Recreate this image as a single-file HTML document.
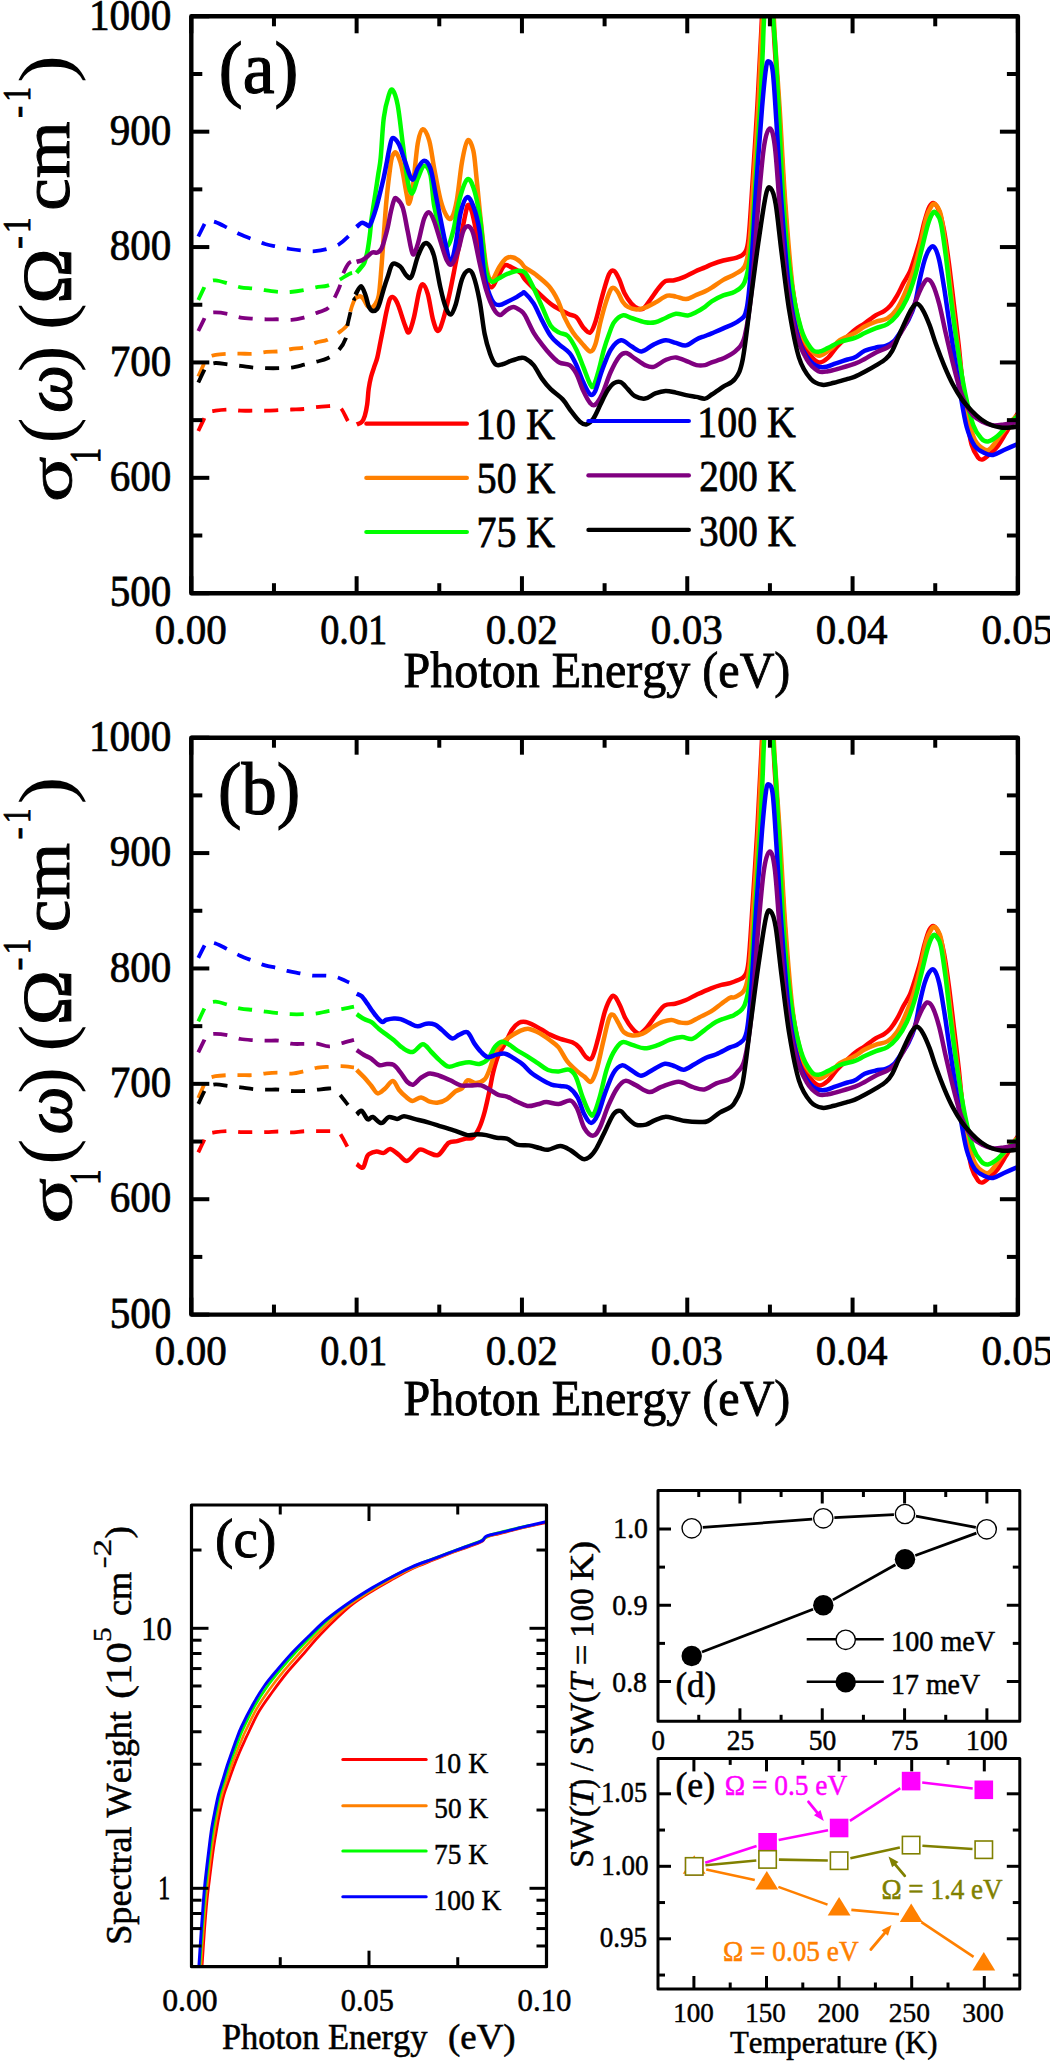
<!DOCTYPE html><html><head><meta charset="utf-8"><style>html,body{margin:0;padding:0;background:#fff;width:1050px;height:2061px;overflow:hidden;}svg{display:block;}text{font-family:"Liberation Serif",serif;font-kerning:none;}</style></head><body><svg width="1050" height="2061" viewBox="0 0 1050 2061" font-family="Liberation Serif" style="white-space:pre">
<rect width="1050" height="2061" fill="#fff"/>
<defs><clipPath id="clipa"><rect x="191.3" y="16.3" width="826.5999999999999" height="576.9000000000001"/></clipPath></defs>
<g clip-path="url(#clipa)" fill="none" stroke-linejoin="round">
<path d="M198.30,431.00 C199.25,428.98 202.63,421.90 204.00,418.90 C205.37,415.90 204.57,414.37 206.50,413.00 C208.43,411.63 211.85,411.27 215.60,410.70 C219.35,410.13 224.83,409.60 229.00,409.60 C233.17,409.60 236.43,410.52 240.60,410.70 C244.77,410.88 249.72,410.70 254.00,410.70 C258.28,410.70 262.08,410.80 266.30,410.70 C270.52,410.60 275.10,410.30 279.30,410.10 C283.50,409.90 287.42,409.68 291.50,409.50 C295.58,409.32 299.72,409.38 303.80,409.00 C307.88,408.62 311.83,407.68 316.00,407.20 C320.17,406.72 325.80,406.30 328.80,406.10 C331.80,405.90 331.97,405.62 334.00,406.00 C336.03,406.38 338.67,405.87 341.00,408.40 C343.33,410.93 346.17,418.27 348.00,421.20 C349.83,424.13 351.33,425.20 352.00,426.00" stroke="#ff0000" stroke-width="3.8" stroke-dasharray="14 12"/>
<path d="M198.30,376.50 C199.25,374.35 202.63,366.68 204.00,363.60 C205.37,360.52 204.57,359.47 206.50,358.00 C208.43,356.53 211.85,355.52 215.60,354.80 C219.35,354.08 224.83,353.88 229.00,353.70 C233.17,353.52 236.43,353.70 240.60,353.70 C244.77,353.70 249.72,354.00 254.00,353.70 C258.28,353.40 262.03,352.30 266.30,351.90 C270.57,351.50 275.40,351.78 279.60,351.30 C283.80,350.82 287.38,349.67 291.50,349.00 C295.62,348.33 300.22,348.37 304.30,347.30 C308.38,346.23 312.12,343.87 316.00,342.60 C319.88,341.33 323.82,341.35 327.60,339.70 C331.38,338.05 335.40,335.22 338.70,332.70 C342.00,330.18 345.47,328.08 347.40,324.60 C349.33,321.12 349.23,315.68 350.30,311.80 C351.37,307.92 352.73,303.83 353.80,301.30 C354.87,298.77 356.22,297.38 356.70,296.60" stroke="#ff8000" stroke-width="3.8" stroke-dasharray="14 12"/>
<path d="M198.30,300.00 C199.25,297.98 202.63,290.73 204.00,287.90 C205.37,285.07 204.57,284.27 206.50,283.00 C208.43,281.73 211.85,280.17 215.60,280.30 C219.35,280.43 224.83,282.63 229.00,283.80 C233.17,284.97 236.52,286.52 240.60,287.30 C244.68,288.08 249.42,288.02 253.50,288.50 C257.58,288.98 260.75,289.62 265.10,290.20 C269.45,290.78 275.38,291.70 279.60,292.00 C283.82,292.30 286.37,292.30 290.40,292.00 C294.43,291.70 299.53,290.98 303.80,290.20 C308.07,289.42 312.03,288.07 316.00,287.30 C319.97,286.53 323.82,286.77 327.60,285.60 C331.38,284.43 335.10,282.25 338.70,280.30 C342.30,278.35 346.20,275.25 349.20,273.90 C352.20,272.55 355.45,272.48 356.70,272.20" stroke="#00ff00" stroke-width="3.8" stroke-dasharray="14 12"/>
<path d="M198.30,236.50 C199.35,234.40 203.23,226.57 204.60,223.90 C205.97,221.23 204.67,220.80 206.50,220.50 C208.33,220.20 212.05,220.87 215.60,222.10 C219.15,223.33 223.72,225.87 227.80,227.90 C231.88,229.93 235.82,232.35 240.10,234.30 C244.38,236.25 249.33,237.98 253.50,239.60 C257.67,241.22 261.18,242.83 265.10,244.00 C269.02,245.17 272.85,245.77 277.00,246.60 C281.15,247.43 285.73,248.33 290.00,249.00 C294.27,249.67 298.43,250.23 302.60,250.60 C306.77,250.97 310.83,251.48 315.00,251.20 C319.17,250.92 323.55,250.07 327.60,248.90 C331.65,247.73 335.90,246.23 339.30,244.20 C342.70,242.17 345.10,239.50 348.00,236.70 C350.90,233.90 355.25,228.95 356.70,227.40" stroke="#0000ff" stroke-width="3.8" stroke-dasharray="14 12"/>
<path d="M198.30,331.00 C199.25,329.05 202.63,322.13 204.00,319.30 C205.37,316.47 204.57,315.15 206.50,314.00 C208.43,312.85 211.85,312.38 215.60,312.40 C219.35,312.42 224.83,313.23 229.00,314.10 C233.17,314.97 236.43,316.82 240.60,317.60 C244.77,318.38 249.72,318.52 254.00,318.80 C258.28,319.08 262.03,319.22 266.30,319.30 C270.57,319.38 275.40,319.20 279.60,319.30 C283.80,319.40 287.47,320.18 291.50,319.90 C295.53,319.62 299.92,318.67 303.80,317.60 C307.68,316.53 310.93,314.97 314.80,313.50 C318.67,312.03 324.13,310.55 327.00,308.80 C329.87,307.05 330.73,304.83 332.00,303.00 C333.27,301.17 333.30,300.62 334.60,297.80 C335.90,294.98 338.43,289.98 339.80,286.10 C341.17,282.22 341.23,278.37 342.80,274.50 C344.37,270.63 346.98,265.23 349.20,262.90 C351.42,260.57 354.95,260.90 356.10,260.50" stroke="#800080" stroke-width="3.8" stroke-dasharray="14 12"/>
<path d="M198.30,382.50 C199.25,380.52 202.63,373.35 204.00,370.60 C205.37,367.85 204.57,367.27 206.50,366.00 C208.43,364.73 211.85,363.22 215.60,363.00 C219.35,362.78 224.83,364.22 229.00,364.70 C233.17,365.18 236.43,365.40 240.60,365.90 C244.77,366.40 249.72,367.32 254.00,367.70 C258.28,368.08 262.08,368.12 266.30,368.20 C270.52,368.28 275.10,368.30 279.30,368.20 C283.50,368.10 287.33,368.18 291.50,367.60 C295.67,367.02 300.22,365.67 304.30,364.70 C308.38,363.73 312.12,362.87 316.00,361.80 C319.88,360.73 323.82,360.23 327.60,358.30 C331.38,356.37 335.68,353.50 338.70,350.20 C341.72,346.90 344.25,342.58 345.70,338.50 C347.15,334.42 346.63,329.97 347.40,325.70 C348.17,321.43 349.33,316.97 350.30,312.90 C351.27,308.83 352.13,304.02 353.20,301.30 C354.27,298.58 356.12,297.38 356.70,296.60" stroke="#000000" stroke-width="3.8" stroke-dasharray="14 12"/>
<path d="M356.70,424.40 C357.53,424.00 360.35,423.43 361.70,422.00 C363.05,420.57 363.88,418.77 364.80,415.80 C365.72,412.83 366.55,408.72 367.20,404.20 C367.85,399.68 368.07,393.23 368.70,388.70 C369.33,384.17 370.08,380.63 371.00,377.00 C371.92,373.37 373.15,370.13 374.20,366.90 C375.25,363.67 376.27,361.73 377.30,357.60 C378.33,353.47 379.37,347.27 380.40,342.10 C381.43,336.93 382.47,331.78 383.50,326.60 C384.53,321.42 385.57,315.53 386.60,311.00 C387.63,306.47 388.70,301.75 389.70,299.40 C390.70,297.05 391.57,296.77 392.60,296.90 C393.63,297.03 394.85,298.52 395.90,300.20 C396.95,301.88 397.35,302.72 398.90,307.00 C400.45,311.28 403.52,321.70 405.20,325.90 C406.88,330.10 407.53,333.67 409.00,332.20 C410.47,330.73 412.32,323.82 414.00,317.10 C415.68,310.38 417.62,297.37 419.10,291.90 C420.58,286.43 421.43,283.88 422.90,284.30 C424.37,284.72 426.22,288.52 427.90,294.40 C429.58,300.28 431.32,313.50 433.00,319.60 C434.68,325.70 436.32,331.00 438.00,331.00 C439.68,331.00 441.20,325.70 443.10,319.60 C445.00,313.50 447.30,303.85 449.40,294.40 C451.50,284.95 453.82,272.37 455.70,262.90 C457.58,253.43 459.02,246.02 460.70,237.60 C462.38,229.18 464.53,217.87 465.80,212.40 C467.07,206.93 467.25,204.80 468.30,204.80 C469.35,204.80 470.28,205.55 472.10,212.40 C473.92,219.25 476.82,234.63 479.20,245.90 C481.58,257.17 484.30,273.12 486.40,280.00 C488.50,286.88 490.00,287.50 491.80,287.20 C493.60,286.90 495.12,281.80 497.20,278.20 C499.28,274.60 501.92,267.40 504.30,265.60 C506.68,263.80 508.80,266.20 511.50,267.40 C514.20,268.60 518.25,270.80 520.50,272.80 C522.75,274.80 521.97,276.02 525.00,279.40 C528.03,282.78 534.13,288.82 538.70,293.10 C543.27,297.38 547.53,301.67 552.40,305.10 C557.27,308.53 563.90,311.70 567.90,313.70 C571.90,315.70 573.83,314.82 576.40,317.10 C578.97,319.38 581.02,324.82 583.30,327.40 C585.58,329.98 588.10,333.45 590.10,332.60 C592.10,331.75 593.30,328.30 595.30,322.30 C597.30,316.30 599.82,304.60 602.10,296.60 C604.38,288.60 607.00,278.58 609.00,274.30 C611.00,270.02 612.38,270.05 614.10,270.90 C615.82,271.75 617.58,275.70 619.30,279.40 C621.02,283.10 622.40,289.10 624.40,293.10 C626.40,297.10 629.02,300.82 631.30,303.40 C633.58,305.98 636.10,307.73 638.10,308.60 C640.10,309.47 641.30,310.03 643.30,308.60 C645.30,307.17 647.53,303.43 650.10,300.00 C652.67,296.57 656.12,291.15 658.70,288.00 C661.28,284.85 663.02,282.38 665.60,281.10 C668.18,279.82 671.07,281.00 674.20,280.30 C677.33,279.60 680.98,278.33 684.40,276.90 C687.82,275.47 691.27,273.28 694.70,271.70 C698.13,270.12 702.17,268.62 705.00,267.40 C707.83,266.18 708.65,265.55 711.70,264.40 C714.75,263.25 719.10,261.63 723.30,260.50 C727.50,259.37 733.33,258.90 736.90,257.60 C740.47,256.30 742.77,255.78 744.70,252.70 C746.63,249.62 747.22,250.42 748.50,239.10 C749.78,227.78 750.93,206.80 752.40,184.80 C753.87,162.80 755.90,131.23 757.30,107.10 C758.70,82.97 759.02,71.18 760.80,40.00 C762.58,8.82 765.75,-80.00 768.00,-80.00 C770.25,-80.00 772.68,12.05 774.30,40.00 C775.92,67.95 776.17,63.57 777.70,87.70 C779.23,111.83 781.57,155.68 783.50,184.80 C785.43,213.92 787.37,242.35 789.30,262.40 C791.23,282.45 792.83,292.15 795.10,305.10 C797.37,318.05 800.30,331.68 802.90,340.10 C805.50,348.52 807.95,351.88 810.70,355.60 C813.45,359.32 816.48,362.07 819.40,362.40 C822.32,362.73 825.45,360.02 828.20,357.60 C830.95,355.18 833.00,351.13 835.90,347.90 C838.80,344.67 842.42,341.23 845.60,338.20 C848.78,335.17 851.82,332.18 855.00,329.70 C858.18,327.22 861.20,325.72 864.70,323.30 C868.20,320.88 872.77,317.23 876.00,315.20 C879.23,313.17 881.67,312.73 884.10,311.10 C886.53,309.47 888.43,307.97 890.60,305.40 C892.77,302.83 894.93,299.47 897.10,295.70 C899.27,291.93 901.45,286.85 903.60,282.80 C905.75,278.75 908.12,275.72 910.00,271.40 C911.88,267.08 913.27,262.02 914.90,256.90 C916.53,251.78 918.18,246.65 919.80,240.70 C921.42,234.75 922.98,226.87 924.60,221.20 C926.22,215.53 927.88,209.67 929.50,206.70 C931.12,203.73 932.68,202.60 934.30,203.40 C935.92,204.20 937.57,206.90 939.20,211.50 C940.83,216.10 942.48,222.37 944.10,231.00 C945.72,239.63 947.28,251.17 948.90,263.30 C950.52,275.43 952.18,290.30 953.80,303.80 C955.42,317.30 957.25,332.15 958.60,344.30 C959.95,356.45 960.55,364.55 961.90,376.70 C963.25,388.85 965.08,405.87 966.70,417.20 C968.32,428.53 969.70,437.97 971.60,444.70 C973.50,451.43 976.22,455.17 978.10,457.60 C979.98,460.03 981.02,459.83 982.90,459.30 C984.78,458.77 986.97,456.57 989.40,454.40 C991.83,452.23 994.80,449.80 997.50,446.30 C1000.20,442.80 1002.63,438.25 1005.60,433.40 C1008.57,428.55 1012.90,421.10 1015.30,417.20 C1017.70,413.30 1019.22,411.20 1020.00,410.00" stroke="#ff0000" stroke-width="4.5"/>
<path d="M355.50,297.90 C356.28,297.63 358.90,296.18 360.20,296.30 C361.50,296.42 362.13,297.05 363.30,298.60 C364.47,300.15 365.92,304.05 367.20,305.60 C368.48,307.15 369.72,308.03 371.00,307.90 C372.28,307.77 373.60,306.87 374.90,304.80 C376.20,302.73 377.70,301.88 378.80,295.50 C379.90,289.12 380.67,276.52 381.50,266.50 C382.33,256.48 383.03,245.77 383.80,235.40 C384.57,225.03 385.32,213.35 386.10,204.30 C386.88,195.25 387.63,188.48 388.50,181.10 C389.37,173.72 390.47,164.52 391.30,160.00 C392.13,155.48 392.65,155.15 393.50,154.00 C394.35,152.85 395.08,151.13 396.40,153.10 C397.72,155.07 399.72,159.07 401.40,165.80 C403.08,172.53 405.23,187.20 406.50,193.50 C407.77,199.80 407.95,204.65 409.00,203.60 C410.05,202.55 411.33,197.28 412.80,187.20 C414.27,177.12 416.12,152.77 417.80,143.10 C419.48,133.43 421.00,129.63 422.90,129.20 C424.80,128.77 427.32,133.98 429.20,140.50 C431.08,147.02 432.32,158.42 434.20,168.30 C436.08,178.18 438.40,191.82 440.50,199.80 C442.60,207.78 444.90,213.25 446.80,216.20 C448.70,219.15 450.22,220.23 451.90,217.50 C453.58,214.77 455.22,209.05 456.90,199.80 C458.58,190.55 460.22,171.88 462.00,162.00 C463.78,152.12 465.72,142.40 467.60,140.50 C469.48,138.60 471.82,144.40 473.30,150.60 C474.78,156.80 475.22,165.72 476.50,177.70 C477.78,189.68 479.35,207.55 481.00,222.50 C482.65,237.45 484.60,257.82 486.40,267.40 C488.20,276.98 489.70,280.00 491.80,280.00 C493.90,280.00 496.62,271.00 499.00,267.40 C501.38,263.80 503.72,260.05 506.10,258.40 C508.48,256.75 510.90,256.90 513.30,257.50 C515.70,258.10 518.55,260.35 520.50,262.00 C522.45,263.65 522.53,265.35 525.00,267.40 C527.47,269.45 531.30,271.15 535.30,274.30 C539.30,277.45 545.28,282.02 549.00,286.30 C552.72,290.58 555.03,294.87 557.60,300.00 C560.17,305.13 561.83,311.67 564.40,317.10 C566.97,322.53 570.13,328.30 573.00,332.60 C575.87,336.90 578.75,339.77 581.60,342.90 C584.45,346.03 587.82,351.12 590.10,351.40 C592.38,351.68 593.58,349.45 595.30,344.60 C597.02,339.75 598.68,329.17 600.40,322.30 C602.12,315.43 603.88,308.83 605.60,303.40 C607.32,297.97 609.28,292.27 610.70,289.70 C612.12,287.13 612.82,287.43 614.10,288.00 C615.38,288.57 616.97,290.82 618.40,293.10 C619.83,295.38 621.12,299.40 622.70,301.70 C624.28,304.00 625.62,305.62 627.90,306.90 C630.18,308.18 633.55,309.27 636.40,309.40 C639.25,309.53 641.85,308.83 645.00,307.70 C648.15,306.57 651.58,304.60 655.30,302.60 C659.02,300.60 663.87,296.70 667.30,295.70 C670.73,294.70 672.77,296.03 675.90,296.60 C679.03,297.17 682.68,299.38 686.10,299.10 C689.52,298.82 693.25,296.18 696.40,294.90 C699.55,293.62 702.45,292.60 705.00,291.40 C707.55,290.20 708.65,289.62 711.70,287.70 C714.75,285.78 719.42,282.17 723.30,279.90 C727.18,277.63 731.43,276.37 735.00,274.10 C738.57,271.83 742.28,271.48 744.70,266.30 C747.12,261.12 748.05,256.58 749.50,243.00 C750.95,229.42 751.93,207.45 753.40,184.80 C754.87,162.15 756.95,131.23 758.30,107.10 C759.65,82.97 759.83,69.52 761.50,40.00 C763.17,10.48 766.05,-70.00 768.30,-70.00 C770.55,-70.00 773.12,10.48 775.00,40.00 C776.88,69.52 777.87,79.73 779.60,107.10 C781.33,134.47 783.13,173.45 785.40,204.20 C787.67,234.95 790.28,269.60 793.20,291.60 C796.12,313.60 799.67,326.18 802.90,336.20 C806.13,346.22 809.68,348.47 812.60,351.70 C815.52,354.93 817.17,356.23 820.40,355.60 C823.63,354.97 828.77,350.48 832.00,347.90 C835.23,345.32 835.97,342.58 839.80,340.10 C843.63,337.62 850.85,335.27 855.00,333.00 C859.15,330.73 861.20,328.40 864.70,326.50 C868.20,324.60 872.22,322.95 876.00,321.60 C879.78,320.25 883.88,320.55 887.40,318.40 C890.92,316.25 894.13,313.02 897.10,308.70 C900.07,304.38 902.50,298.72 905.20,292.50 C907.90,286.28 910.87,278.97 913.30,271.40 C915.73,263.83 917.65,256.00 919.80,247.10 C921.95,238.20 924.32,224.73 926.20,218.00 C928.08,211.27 929.62,209.00 931.10,206.70 C932.58,204.40 933.48,202.85 935.10,204.20 C936.72,205.55 939.03,207.65 940.80,214.80 C942.57,221.95 944.08,234.97 945.70,247.10 C947.32,259.23 948.88,274.10 950.50,287.60 C952.12,301.10 953.50,313.25 955.40,328.10 C957.30,342.95 959.75,361.85 961.90,376.70 C964.05,391.55 966.15,406.68 968.30,417.20 C970.45,427.72 972.10,434.42 974.80,439.80 C977.50,445.18 981.80,448.15 984.50,449.50 C987.20,450.85 988.30,450.32 991.00,447.90 C993.70,445.48 997.47,439.32 1000.70,435.00 C1003.93,430.68 1007.18,425.67 1010.40,422.00 C1013.62,418.33 1018.40,414.50 1020.00,413.00" stroke="#ff8000" stroke-width="4.5"/>
<path d="M356.60,272.70 C357.25,271.92 359.20,269.68 360.50,268.00 C361.80,266.32 363.23,265.45 364.40,262.60 C365.57,259.75 366.60,255.43 367.50,250.90 C368.40,246.37 369.15,240.57 369.80,235.40 C370.45,230.23 370.75,225.08 371.40,219.90 C372.05,214.72 372.92,209.48 373.70,204.30 C374.48,199.12 375.32,193.97 376.10,188.80 C376.88,183.63 377.63,178.47 378.40,173.30 C379.17,168.13 379.80,167.05 380.70,157.80 C381.60,148.55 382.45,128.25 383.80,117.80 C385.15,107.35 387.33,99.72 388.80,95.10 C390.27,90.48 391.12,88.42 392.60,90.10 C394.08,91.78 396.02,96.37 397.70,105.20 C399.38,114.03 401.03,130.48 402.70,143.10 C404.37,155.72 406.12,172.50 407.70,180.90 C409.28,189.30 410.52,193.92 412.20,193.50 C413.88,193.08 415.82,183.02 417.80,178.40 C419.78,173.78 422.00,166.43 424.10,165.80 C426.20,165.17 428.72,167.88 430.40,174.60 C432.08,181.32 432.52,196.65 434.20,206.10 C435.88,215.55 438.40,224.57 440.50,231.30 C442.60,238.03 444.70,246.50 446.80,246.50 C448.90,246.50 451.00,239.08 453.10,231.30 C455.20,223.52 457.08,208.42 459.40,199.80 C461.72,191.18 464.68,181.70 467.00,179.60 C469.32,177.50 471.20,181.30 473.30,187.20 C475.40,193.10 477.98,205.37 479.60,215.00 C481.22,224.63 481.87,235.37 483.00,245.00 C484.13,254.63 484.93,266.67 486.40,272.80 C487.87,278.93 489.70,280.90 491.80,281.80 C493.90,282.70 496.32,279.55 499.00,278.20 C501.68,276.85 504.92,274.90 507.90,273.70 C510.88,272.50 514.05,271.18 516.90,271.00 C519.75,270.82 522.22,269.77 525.00,272.60 C527.78,275.43 530.75,282.28 533.60,288.00 C536.45,293.72 539.25,300.62 542.10,306.90 C544.95,313.18 547.83,321.42 550.70,325.70 C553.57,329.98 556.43,330.88 559.30,332.60 C562.17,334.32 565.05,333.15 567.90,336.00 C570.75,338.85 573.83,344.55 576.40,349.70 C578.97,354.85 581.02,361.18 583.30,366.90 C585.58,372.62 588.38,380.87 590.10,384.00 C591.82,387.13 592.17,387.98 593.60,385.70 C595.03,383.42 596.98,376.30 598.70,370.30 C600.42,364.30 602.18,355.70 603.90,349.70 C605.62,343.70 607.30,338.87 609.00,334.30 C610.70,329.73 611.82,325.45 614.10,322.30 C616.38,319.15 619.83,316.12 622.70,315.40 C625.57,314.68 627.58,316.85 631.30,318.00 C635.02,319.15 641.00,321.58 645.00,322.30 C649.00,323.02 651.87,323.02 655.30,322.30 C658.73,321.58 662.17,319.43 665.60,318.00 C669.03,316.57 672.18,314.13 675.90,313.70 C679.62,313.27 684.48,315.68 687.90,315.40 C691.32,315.12 693.55,313.42 696.40,312.00 C699.25,310.58 702.45,308.68 705.00,306.90 C707.55,305.12 708.65,303.22 711.70,301.30 C714.75,299.38 719.42,297.02 723.30,295.40 C727.18,293.78 731.43,293.87 735.00,291.60 C738.57,289.33 742.12,288.28 744.70,281.80 C747.28,275.32 748.73,268.87 750.50,252.70 C752.27,236.53 753.68,209.07 755.30,184.80 C756.92,160.53 758.95,129.57 760.20,107.10 C761.45,84.63 762.17,64.52 762.80,50.00 C763.43,35.48 763.00,38.33 764.00,20.00 C765.00,1.67 767.25,-60.00 768.80,-60.00 C770.35,-60.00 772.18,1.67 773.30,20.00 C774.42,38.33 774.62,35.48 775.50,50.00 C776.38,64.52 777.27,81.40 778.60,107.10 C779.93,132.80 781.38,175.08 783.50,204.20 C785.62,233.32 788.38,261.10 791.30,281.80 C794.22,302.50 797.77,317.38 801.00,328.40 C804.23,339.42 807.80,344.02 810.70,347.90 C813.60,351.78 815.48,351.70 818.40,351.70 C821.32,351.70 824.63,349.52 828.20,347.90 C831.77,346.28 835.33,343.68 839.80,342.00 C844.27,340.32 850.85,339.30 855.00,337.80 C859.15,336.30 861.20,334.62 864.70,333.00 C868.20,331.38 872.22,329.58 876.00,328.10 C879.78,326.62 883.88,326.25 887.40,324.10 C890.92,321.95 893.87,319.38 897.10,315.20 C900.33,311.02 903.83,305.48 906.80,299.00 C909.77,292.52 912.47,284.40 914.90,276.30 C917.33,268.20 919.23,259.03 921.40,250.40 C923.57,241.77 926.02,230.72 927.90,224.50 C929.78,218.28 931.35,215.00 932.70,213.10 C934.05,211.20 934.65,211.47 936.00,213.10 C937.35,214.73 939.18,215.88 940.80,222.90 C942.42,229.92 944.08,243.07 945.70,255.20 C947.32,267.33 948.62,280.85 950.50,295.70 C952.38,310.55 954.57,328.10 957.00,344.30 C959.43,360.50 962.40,379.45 965.10,392.90 C967.80,406.35 970.50,417.40 973.20,425.00 C975.90,432.60 978.83,435.75 981.30,438.50 C983.77,441.25 985.30,441.92 988.00,441.50 C990.70,441.08 994.30,438.58 997.50,436.00 C1000.70,433.42 1003.45,429.67 1007.20,426.00 C1010.95,422.33 1017.87,416.00 1020.00,414.00" stroke="#00ff00" stroke-width="4.5"/>
<path d="M356.60,226.90 C357.38,226.25 359.87,223.52 361.30,223.00 C362.73,222.48 363.90,223.28 365.20,223.80 C366.50,224.32 367.93,226.75 369.10,226.10 C370.27,225.45 371.03,222.88 372.20,219.90 C373.37,216.92 374.82,212.60 376.10,208.20 C377.38,203.80 378.62,198.67 379.90,193.50 C381.18,188.33 382.63,182.52 383.80,177.20 C384.97,171.88 385.95,166.47 386.90,161.60 C387.85,156.73 388.55,151.93 389.50,148.00 C390.45,144.07 391.03,138.62 392.60,138.00 C394.17,137.38 396.80,140.30 398.90,144.30 C401.00,148.30 402.98,156.12 405.20,162.00 C407.42,167.88 410.10,178.55 412.20,179.60 C414.30,180.65 415.82,171.45 417.80,168.30 C419.78,165.15 422.00,160.70 424.10,160.70 C426.20,160.70 428.50,162.83 430.40,168.30 C432.30,173.77 433.82,185.10 435.50,193.50 C437.18,201.90 438.82,210.30 440.50,218.70 C442.18,227.10 443.92,236.53 445.60,243.90 C447.28,251.27 448.92,262.90 450.60,262.90 C452.28,262.90 454.02,252.32 455.70,243.90 C457.38,235.48 458.82,220.17 460.70,212.40 C462.58,204.63 464.90,198.35 467.00,197.30 C469.10,196.25 471.20,200.43 473.30,206.10 C475.40,211.77 477.72,219.58 479.60,231.30 C481.48,243.02 482.57,265.00 484.60,276.40 C486.63,287.80 489.40,294.92 491.80,299.70 C494.20,304.48 496.32,304.80 499.00,305.10 C501.68,305.40 505.22,302.70 507.90,301.50 C510.58,300.30 512.70,299.25 515.10,297.90 C517.50,296.55 520.65,294.20 522.30,293.40 C523.95,292.60 523.12,291.43 525.00,293.10 C526.88,294.77 530.75,298.82 533.60,303.40 C536.45,307.98 539.25,315.17 542.10,320.60 C544.95,326.03 547.83,332.00 550.70,336.00 C553.57,340.00 556.15,341.75 559.30,344.60 C562.45,347.45 566.75,349.68 569.60,353.10 C572.45,356.52 574.12,360.23 576.40,365.10 C578.68,369.97 581.02,377.43 583.30,382.30 C585.58,387.17 588.10,392.87 590.10,394.30 C592.10,395.73 593.30,394.90 595.30,390.90 C597.30,386.90 599.53,377.17 602.10,370.30 C604.67,363.43 607.55,354.70 610.70,349.70 C613.85,344.70 617.57,340.87 621.00,340.30 C624.43,339.73 627.87,344.45 631.30,346.30 C634.73,348.15 637.88,351.68 641.60,351.40 C645.32,351.12 649.60,346.45 653.60,344.60 C657.60,342.75 661.88,340.58 665.60,340.30 C669.32,340.02 672.48,342.05 675.90,342.90 C679.32,343.75 682.68,345.98 686.10,345.40 C689.52,344.82 693.25,340.97 696.40,339.40 C699.55,337.83 702.45,337.02 705.00,336.00 C707.55,334.98 708.65,334.57 711.70,333.30 C714.75,332.03 718.78,330.50 723.30,328.40 C727.82,326.30 734.92,323.93 738.80,320.70 C742.68,317.47 744.48,318.72 746.60,309.00 C748.72,299.28 749.88,283.10 751.50,262.40 C753.12,241.70 754.53,210.68 756.30,184.80 C758.07,158.92 760.48,126.52 762.10,107.10 C763.72,87.68 764.87,75.90 766.00,68.30 C767.13,60.70 767.77,60.87 768.90,61.50 C770.03,62.13 771.50,61.27 772.80,72.10 C774.10,82.93 775.23,104.48 776.70,126.50 C778.17,148.52 779.50,176.68 781.60,204.20 C783.70,231.72 786.40,268.95 789.30,291.60 C792.20,314.25 795.43,328.45 799.00,340.10 C802.57,351.75 806.82,356.97 810.70,361.50 C814.58,366.03 818.10,366.98 822.30,367.30 C826.50,367.62 831.68,364.70 835.90,363.40 C840.12,362.10 844.42,360.52 847.60,359.50 C850.78,358.48 852.15,358.75 855.00,357.30 C857.85,355.85 861.20,352.43 864.70,350.80 C868.20,349.17 872.48,348.32 876.00,347.50 C879.52,346.68 882.82,346.97 885.80,345.90 C888.78,344.83 891.20,343.80 893.90,341.10 C896.60,338.40 899.58,333.22 902.00,329.70 C904.42,326.18 906.25,324.32 908.40,320.00 C910.55,315.68 913.00,310.55 914.90,303.80 C916.80,297.05 918.18,286.78 919.80,279.50 C921.42,272.22 922.98,265.22 924.60,260.10 C926.22,254.98 927.88,250.97 929.50,248.80 C931.12,246.63 932.68,245.22 934.30,247.10 C935.92,248.98 937.57,253.35 939.20,260.10 C940.83,266.85 942.48,277.62 944.10,287.60 C945.72,297.58 947.28,309.20 948.90,320.00 C950.52,330.80 951.92,340.25 953.80,352.40 C955.68,364.55 958.05,380.47 960.20,392.90 C962.35,405.33 964.27,418.15 966.70,427.00 C969.13,435.85 971.83,441.67 974.80,446.00 C977.77,450.33 981.47,451.50 984.50,453.00 C987.53,454.50 989.75,455.50 993.00,455.00 C996.25,454.50 999.50,452.00 1004.00,450.00 C1008.50,448.00 1017.33,444.17 1020.00,443.00" stroke="#0000ff" stroke-width="4.5"/>
<path d="M356.60,261.80 C357.52,261.53 360.28,261.10 362.10,260.20 C363.92,259.30 365.82,257.68 367.50,256.40 C369.18,255.12 370.52,253.15 372.20,252.50 C373.88,251.85 376.05,253.15 377.60,252.50 C379.15,251.85 380.33,250.80 381.50,248.60 C382.67,246.40 383.57,242.80 384.60,239.30 C385.63,235.80 386.67,232.13 387.70,227.60 C388.73,223.07 389.77,216.62 390.80,212.10 C391.83,207.58 392.97,202.77 393.90,200.50 C394.83,198.23 394.93,197.35 396.40,198.50 C397.87,199.65 400.82,201.93 402.70,207.40 C404.58,212.87 406.02,223.53 407.70,231.30 C409.38,239.07 411.12,251.90 412.80,254.00 C414.48,256.10 415.92,249.78 417.80,243.90 C419.68,238.02 422.20,223.95 424.10,218.70 C426.00,213.45 427.52,211.98 429.20,212.40 C430.88,212.82 432.32,216.37 434.20,221.20 C436.08,226.03 438.40,234.88 440.50,241.40 C442.60,247.92 444.90,256.52 446.80,260.30 C448.70,264.08 450.00,265.78 451.90,264.10 C453.80,262.42 456.32,255.67 458.20,250.20 C460.08,244.73 461.52,235.28 463.20,231.30 C464.88,227.32 466.62,225.88 468.30,226.30 C469.98,226.72 471.42,227.70 473.30,233.80 C475.18,239.90 477.42,253.42 479.60,262.90 C481.78,272.38 484.07,283.07 486.40,290.70 C488.73,298.33 491.35,304.65 493.60,308.70 C495.85,312.75 497.82,314.70 499.90,315.00 C501.98,315.30 503.87,311.85 506.10,310.50 C508.33,309.15 510.90,306.90 513.30,306.90 C515.70,306.90 518.55,309.08 520.50,310.50 C522.45,311.92 522.82,311.72 525.00,315.40 C527.18,319.08 530.75,327.73 533.60,332.60 C536.45,337.47 539.25,340.88 542.10,344.60 C544.95,348.32 547.83,351.90 550.70,354.90 C553.57,357.90 556.15,360.90 559.30,362.60 C562.45,364.30 566.75,363.25 569.60,365.10 C572.45,366.95 574.12,369.40 576.40,373.70 C578.68,378.00 581.02,386.03 583.30,390.90 C585.58,395.77 588.10,400.62 590.10,402.90 C592.10,405.18 593.30,406.03 595.30,404.60 C597.30,403.17 599.53,399.73 602.10,394.30 C604.67,388.87 607.83,378.28 610.70,372.00 C613.57,365.72 616.73,359.75 619.30,356.60 C621.87,353.45 623.53,352.82 626.10,353.10 C628.67,353.38 631.55,356.30 634.70,358.30 C637.85,360.30 641.85,363.67 645.00,365.10 C648.15,366.53 650.17,367.75 653.60,366.90 C657.03,366.05 661.88,361.58 665.60,360.00 C669.32,358.42 672.18,357.12 675.90,357.40 C679.62,357.68 684.48,360.42 687.90,361.70 C691.32,362.98 693.55,364.53 696.40,365.10 C699.25,365.67 702.45,365.55 705.00,365.10 C707.55,364.65 708.33,363.65 711.70,362.40 C715.07,361.15 721.00,359.70 725.20,357.60 C729.40,355.50 733.65,353.37 736.90,349.80 C740.15,346.23 742.27,345.90 744.70,336.20 C747.13,326.50 749.23,313.60 751.50,291.60 C753.77,269.60 756.20,228.48 758.30,204.20 C760.40,179.92 762.17,158.53 764.10,145.90 C766.03,133.27 768.12,128.40 769.90,128.40 C771.68,128.40 773.18,133.27 774.80,145.90 C776.42,158.53 777.83,183.17 779.60,204.20 C781.37,225.23 782.82,251.07 785.40,272.10 C787.98,293.13 791.53,315.83 795.10,330.40 C798.67,344.97 802.92,352.70 806.80,359.50 C810.68,366.30 814.83,369.25 818.40,371.20 C821.97,373.15 824.63,371.68 828.20,371.20 C831.77,370.72 835.33,369.55 839.80,368.30 C844.27,367.05 850.85,365.27 855.00,363.70 C859.15,362.13 861.20,360.78 864.70,358.90 C868.20,357.02 872.22,354.30 876.00,352.40 C879.78,350.50 884.15,349.38 887.40,347.50 C890.65,345.62 892.80,344.33 895.50,341.10 C898.20,337.87 901.18,332.42 903.60,328.10 C906.02,323.78 907.85,320.05 910.00,315.20 C912.15,310.35 914.60,303.60 916.50,299.00 C918.40,294.40 919.65,290.85 921.40,287.60 C923.15,284.35 925.12,280.03 927.00,279.50 C928.88,278.97 930.67,280.35 932.70,284.40 C934.73,288.45 937.03,295.70 939.20,303.80 C941.37,311.90 943.53,323.55 945.70,333.00 C947.87,342.45 950.05,351.87 952.20,360.50 C954.35,369.13 956.45,377.78 958.60,384.80 C960.75,391.82 962.67,397.48 965.10,402.60 C967.53,407.72 970.23,412.27 973.20,415.50 C976.17,418.73 979.67,420.37 982.90,422.00 C986.13,423.63 989.08,424.90 992.60,425.30 C996.12,425.70 999.43,425.03 1004.00,424.40 C1008.57,423.77 1017.33,421.98 1020.00,421.50" stroke="#800080" stroke-width="4.5"/>
<path d="M355.50,294.70 C356.42,293.28 359.32,286.07 361.00,286.20 C362.68,286.33 364.32,292.13 365.60,295.50 C366.88,298.87 367.53,303.82 368.70,306.40 C369.87,308.98 371.17,310.62 372.60,311.00 C374.03,311.38 376.07,310.20 377.30,308.70 C378.53,307.20 378.88,305.45 380.00,302.00 C381.12,298.55 382.67,292.33 384.00,288.00 C385.33,283.67 386.57,280.00 388.00,276.00 C389.43,272.00 390.57,265.57 392.60,264.00 C394.63,262.43 397.88,264.68 400.20,266.60 C402.52,268.52 404.62,273.82 406.50,275.50 C408.38,277.18 409.62,279.87 411.50,276.70 C413.38,273.53 415.70,261.97 417.80,256.50 C419.90,251.03 422.20,245.78 424.10,243.90 C426.00,242.02 427.52,243.10 429.20,245.20 C430.88,247.30 432.32,249.35 434.20,256.50 C436.08,263.65 438.60,279.68 440.50,288.10 C442.40,296.52 443.92,302.58 445.60,307.00 C447.28,311.42 448.92,315.02 450.60,314.60 C452.28,314.18 453.80,310.40 455.70,304.50 C457.60,298.60 459.90,284.88 462.00,279.20 C464.10,273.52 466.42,271.02 468.30,270.40 C470.18,269.78 471.42,270.45 473.30,275.50 C475.18,280.55 477.72,290.98 479.60,300.70 C481.48,310.42 482.87,324.98 484.60,333.80 C486.33,342.62 488.20,348.52 490.00,353.60 C491.80,358.68 493.32,362.52 495.40,364.30 C497.48,366.08 499.82,364.90 502.50,364.30 C505.18,363.70 508.50,361.75 511.50,360.70 C514.50,359.65 518.25,358.40 520.50,358.00 C522.75,357.60 522.82,357.12 525.00,358.30 C527.18,359.48 530.75,361.67 533.60,365.10 C536.45,368.53 539.25,374.88 542.10,378.90 C544.95,382.92 547.27,385.78 550.70,389.20 C554.13,392.62 559.27,395.70 562.70,399.40 C566.13,403.10 568.43,407.68 571.30,411.40 C574.17,415.12 577.33,419.55 579.90,421.70 C582.47,423.85 584.42,424.87 586.70,424.30 C588.98,423.73 591.32,421.58 593.60,418.30 C595.88,415.02 598.12,409.17 600.40,404.60 C602.68,400.03 605.02,394.48 607.30,390.90 C609.58,387.32 611.82,384.53 614.10,383.10 C616.38,381.67 618.70,381.28 621.00,382.30 C623.30,383.32 625.62,386.92 627.90,389.20 C630.18,391.48 631.85,394.43 634.70,396.00 C637.55,397.57 641.57,399.03 645.00,398.60 C648.43,398.17 651.87,394.68 655.30,393.40 C658.73,392.12 662.17,391.03 665.60,390.90 C669.03,390.77 672.48,391.90 675.90,392.60 C679.32,393.30 682.68,394.38 686.10,395.10 C689.52,395.82 693.25,396.32 696.40,396.90 C699.55,397.48 702.45,399.00 705.00,398.60 C707.55,398.20 708.65,396.48 711.70,394.50 C714.75,392.52 719.42,389.30 723.30,386.70 C727.18,384.10 731.77,383.43 735.00,378.90 C738.23,374.37 740.12,372.43 742.70,359.50 C745.28,346.57 747.90,320.72 750.50,301.30 C753.10,281.88 755.72,260.80 758.30,243.00 C760.88,225.20 763.90,203.57 766.00,194.50 C768.10,185.43 769.28,186.98 770.90,188.60 C772.52,190.22 773.92,193.52 775.70,204.20 C777.48,214.88 779.33,234.90 781.60,252.70 C783.87,270.50 786.40,293.52 789.30,311.00 C792.20,328.48 795.43,346.28 799.00,357.60 C802.57,368.92 806.82,374.37 810.70,378.90 C814.58,383.43 818.42,384.15 822.30,384.80 C826.18,385.45 829.78,383.78 834.00,382.80 C838.22,381.82 844.10,379.92 847.60,378.90 C851.10,377.88 852.15,377.88 855.00,376.70 C857.85,375.52 861.20,373.68 864.70,371.80 C868.20,369.92 872.48,367.55 876.00,365.40 C879.52,363.25 883.10,361.33 885.80,358.90 C888.50,356.47 890.05,354.58 892.20,350.80 C894.35,347.02 896.53,341.07 898.70,336.20 C900.87,331.33 903.03,326.18 905.20,321.60 C907.37,317.02 909.68,311.67 911.70,308.70 C913.72,305.73 915.42,303.53 917.30,303.80 C919.18,304.07 920.97,306.78 923.00,310.30 C925.03,313.82 927.33,319.23 929.50,324.90 C931.67,330.57 933.57,337.55 936.00,344.30 C938.43,351.05 941.40,358.92 944.10,365.40 C946.80,371.88 949.23,377.53 952.20,383.20 C955.17,388.87 958.67,394.82 961.90,399.40 C965.13,403.98 968.37,407.35 971.60,410.70 C974.83,414.05 978.07,417.12 981.30,419.50 C984.53,421.88 987.77,423.67 991.00,425.00 C994.23,426.33 997.47,427.08 1000.70,427.50 C1003.93,427.92 1007.18,427.75 1010.40,427.50 C1013.62,427.25 1018.40,426.25 1020.00,426.00" stroke="#000000" stroke-width="4.5"/>
</g>
<line x1="191.30" y1="593.20" x2="209.30" y2="593.20" stroke="#000" stroke-width="4" stroke-linecap="butt"/>
<line x1="1017.90" y1="593.20" x2="999.90" y2="593.20" stroke="#000" stroke-width="4" stroke-linecap="butt"/>
<line x1="191.30" y1="535.51" x2="202.30" y2="535.51" stroke="#000" stroke-width="4" stroke-linecap="butt"/>
<line x1="1017.90" y1="535.51" x2="1006.90" y2="535.51" stroke="#000" stroke-width="4" stroke-linecap="butt"/>
<line x1="191.30" y1="477.82" x2="209.30" y2="477.82" stroke="#000" stroke-width="4" stroke-linecap="butt"/>
<line x1="1017.90" y1="477.82" x2="999.90" y2="477.82" stroke="#000" stroke-width="4" stroke-linecap="butt"/>
<line x1="191.30" y1="420.13" x2="202.30" y2="420.13" stroke="#000" stroke-width="4" stroke-linecap="butt"/>
<line x1="1017.90" y1="420.13" x2="1006.90" y2="420.13" stroke="#000" stroke-width="4" stroke-linecap="butt"/>
<line x1="191.30" y1="362.44" x2="209.30" y2="362.44" stroke="#000" stroke-width="4" stroke-linecap="butt"/>
<line x1="1017.90" y1="362.44" x2="999.90" y2="362.44" stroke="#000" stroke-width="4" stroke-linecap="butt"/>
<line x1="191.30" y1="304.75" x2="202.30" y2="304.75" stroke="#000" stroke-width="4" stroke-linecap="butt"/>
<line x1="1017.90" y1="304.75" x2="1006.90" y2="304.75" stroke="#000" stroke-width="4" stroke-linecap="butt"/>
<line x1="191.30" y1="247.06" x2="209.30" y2="247.06" stroke="#000" stroke-width="4" stroke-linecap="butt"/>
<line x1="1017.90" y1="247.06" x2="999.90" y2="247.06" stroke="#000" stroke-width="4" stroke-linecap="butt"/>
<line x1="191.30" y1="189.37" x2="202.30" y2="189.37" stroke="#000" stroke-width="4" stroke-linecap="butt"/>
<line x1="1017.90" y1="189.37" x2="1006.90" y2="189.37" stroke="#000" stroke-width="4" stroke-linecap="butt"/>
<line x1="191.30" y1="131.68" x2="209.30" y2="131.68" stroke="#000" stroke-width="4" stroke-linecap="butt"/>
<line x1="1017.90" y1="131.68" x2="999.90" y2="131.68" stroke="#000" stroke-width="4" stroke-linecap="butt"/>
<line x1="191.30" y1="73.99" x2="202.30" y2="73.99" stroke="#000" stroke-width="4" stroke-linecap="butt"/>
<line x1="1017.90" y1="73.99" x2="1006.90" y2="73.99" stroke="#000" stroke-width="4" stroke-linecap="butt"/>
<line x1="191.30" y1="16.30" x2="209.30" y2="16.30" stroke="#000" stroke-width="4" stroke-linecap="butt"/>
<line x1="1017.90" y1="16.30" x2="999.90" y2="16.30" stroke="#000" stroke-width="4" stroke-linecap="butt"/>
<line x1="191.30" y1="593.20" x2="191.30" y2="576.20" stroke="#000" stroke-width="4" stroke-linecap="butt"/>
<line x1="191.30" y1="16.30" x2="191.30" y2="33.30" stroke="#000" stroke-width="4" stroke-linecap="butt"/>
<line x1="273.96" y1="593.20" x2="273.96" y2="583.20" stroke="#000" stroke-width="4" stroke-linecap="butt"/>
<line x1="273.96" y1="16.30" x2="273.96" y2="26.30" stroke="#000" stroke-width="4" stroke-linecap="butt"/>
<line x1="356.62" y1="593.20" x2="356.62" y2="576.20" stroke="#000" stroke-width="4" stroke-linecap="butt"/>
<line x1="356.62" y1="16.30" x2="356.62" y2="33.30" stroke="#000" stroke-width="4" stroke-linecap="butt"/>
<line x1="439.28" y1="593.20" x2="439.28" y2="583.20" stroke="#000" stroke-width="4" stroke-linecap="butt"/>
<line x1="439.28" y1="16.30" x2="439.28" y2="26.30" stroke="#000" stroke-width="4" stroke-linecap="butt"/>
<line x1="521.94" y1="593.20" x2="521.94" y2="576.20" stroke="#000" stroke-width="4" stroke-linecap="butt"/>
<line x1="521.94" y1="16.30" x2="521.94" y2="33.30" stroke="#000" stroke-width="4" stroke-linecap="butt"/>
<line x1="604.60" y1="593.20" x2="604.60" y2="583.20" stroke="#000" stroke-width="4" stroke-linecap="butt"/>
<line x1="604.60" y1="16.30" x2="604.60" y2="26.30" stroke="#000" stroke-width="4" stroke-linecap="butt"/>
<line x1="687.26" y1="593.20" x2="687.26" y2="576.20" stroke="#000" stroke-width="4" stroke-linecap="butt"/>
<line x1="687.26" y1="16.30" x2="687.26" y2="33.30" stroke="#000" stroke-width="4" stroke-linecap="butt"/>
<line x1="769.92" y1="593.20" x2="769.92" y2="583.20" stroke="#000" stroke-width="4" stroke-linecap="butt"/>
<line x1="769.92" y1="16.30" x2="769.92" y2="26.30" stroke="#000" stroke-width="4" stroke-linecap="butt"/>
<line x1="852.58" y1="593.20" x2="852.58" y2="576.20" stroke="#000" stroke-width="4" stroke-linecap="butt"/>
<line x1="852.58" y1="16.30" x2="852.58" y2="33.30" stroke="#000" stroke-width="4" stroke-linecap="butt"/>
<line x1="935.24" y1="593.20" x2="935.24" y2="583.20" stroke="#000" stroke-width="4" stroke-linecap="butt"/>
<line x1="935.24" y1="16.30" x2="935.24" y2="26.30" stroke="#000" stroke-width="4" stroke-linecap="butt"/>
<line x1="1017.90" y1="593.20" x2="1017.90" y2="576.20" stroke="#000" stroke-width="4" stroke-linecap="butt"/>
<line x1="1017.90" y1="16.30" x2="1017.90" y2="33.30" stroke="#000" stroke-width="4" stroke-linecap="butt"/>
<rect x="191.3" y="16.3" width="826.5999999999999" height="576.9000000000001" fill="none" stroke="#000" stroke-width="4.4" stroke-linejoin="round"/>
<text xml:space="preserve" transform="translate(109.69,606.40) scale(0.9336,1)" font-size="44.00" fill="#000" stroke="#000" stroke-width="0.75">500</text>
<text xml:space="preserve" transform="translate(109.68,491.02) scale(0.9337,1)" font-size="44.00" fill="#000" stroke="#000" stroke-width="0.75">600</text>
<text xml:space="preserve" transform="translate(109.70,375.64) scale(0.9335,1)" font-size="44.00" fill="#000" stroke="#000" stroke-width="0.75">700</text>
<text xml:space="preserve" transform="translate(109.68,260.26) scale(0.9338,1)" font-size="44.00" fill="#000" stroke="#000" stroke-width="0.75">800</text>
<text xml:space="preserve" transform="translate(109.68,144.88) scale(0.9338,1)" font-size="44.00" fill="#000" stroke="#000" stroke-width="0.75">900</text>
<text xml:space="preserve" transform="translate(88.91,29.50) scale(0.9365,1)" font-size="44.00" fill="#000" stroke="#000" stroke-width="0.75">1000</text>
<text xml:space="preserve" transform="translate(154.85,643.60) scale(0.9554,1)" font-size="43.00" fill="#000" stroke="#000" stroke-width="0.72">0.00</text>
<text xml:space="preserve" transform="translate(320.19,643.60) scale(0.8913,1)" font-size="43.00" fill="#000" stroke="#000" stroke-width="0.77">0.01</text>
<text xml:space="preserve" transform="translate(485.84,643.60) scale(0.9553,1)" font-size="43.00" fill="#000" stroke="#000" stroke-width="0.72">0.02</text>
<text xml:space="preserve" transform="translate(650.83,643.60) scale(0.9554,1)" font-size="43.00" fill="#000" stroke="#000" stroke-width="0.72">0.03</text>
<text xml:space="preserve" transform="translate(815.67,643.60) scale(0.9556,1)" font-size="43.00" fill="#000" stroke="#000" stroke-width="0.72">0.04</text>
<text xml:space="preserve" transform="translate(981.47,643.60) scale(0.9554,1)" font-size="43.00" fill="#000" stroke="#000" stroke-width="0.72">0.05</text>
<text xml:space="preserve" transform="translate(403.61,687.40) scale(0.9453,1)" font-size="50.80" fill="#000" stroke="#000" stroke-width="0.86">Photon Energy (eV)</text>
<text xml:space="preserve" transform="translate(218.84,92.90) scale(0.9668,1)" font-size="74.00" fill="#000" stroke="#000" stroke-width="1.22">(a)</text>
<text xml:space="preserve" transform="translate(71.30,502.24) rotate(-90) scale(1.3742,1)" font-size="62.00" fill="#000" stroke="#000" stroke-width="0.72">σ</text>
<text xml:space="preserve" transform="translate(100.00,463.34) rotate(-90) scale(0.6904,1)" font-size="44.40" fill="#000" stroke="#000" stroke-width="1.03">1</text>
<text xml:space="preserve" transform="translate(70.10,443.42) rotate(-90) scale(1.0516,1)" font-size="74.00" fill="#000" stroke="#000" stroke-width="0.00">(</text>
<text xml:space="preserve" transform="translate(70.70,412.99) rotate(-90) scale(0.9963,1)" font-size="68.00" font-style="italic" fill="#000" stroke="#000" stroke-width="1.09">ω</text>
<text xml:space="preserve" transform="translate(70.10,372.26) rotate(-90) scale(1.0832,1)" font-size="74.00" fill="#000" stroke="#000" stroke-width="0.00">)</text>
<text xml:space="preserve" transform="translate(70.10,330.30) rotate(-90) scale(1.1042,1)" font-size="74.00" fill="#000" stroke="#000" stroke-width="0.00">(</text>
<text xml:space="preserve" transform="translate(70.50,303.81) rotate(-90) scale(1.0693,1)" font-size="69.50" fill="#000" stroke="#000" stroke-width="1.04">Ω</text>
<text xml:space="preserve" transform="translate(29.80,249.25) rotate(-90) scale(0.9780,1)" font-size="40.70" fill="#000" stroke="#000" stroke-width="0.67">-</text>
<text xml:space="preserve" transform="translate(29.80,232.89) rotate(-90) scale(0.7573,1)" font-size="40.70" fill="#000" stroke="#000" stroke-width="0.86">1</text>
<text xml:space="preserve" transform="translate(69.20,210.83) rotate(-90) scale(1.0687,1)" font-size="68.50" fill="#000" stroke="#000" stroke-width="1.03">cm</text>
<text xml:space="preserve" transform="translate(29.80,118.03) rotate(-90) scale(0.9024,1)" font-size="40.70" fill="#000" stroke="#000" stroke-width="0.72">-</text>
<text xml:space="preserve" transform="translate(29.80,101.51) rotate(-90) scale(0.7084,1)" font-size="40.70" fill="#000" stroke="#000" stroke-width="0.92">1</text>
<text xml:space="preserve" transform="translate(70.10,83.08) rotate(-90) scale(1.1305,1)" font-size="74.00" fill="#000" stroke="#000" stroke-width="0.00">)</text>
<line x1="366.30" y1="423.70" x2="466.90" y2="423.70" stroke="#ff0000" stroke-width="4.2" stroke-linecap="round"/>
<text xml:space="preserve" transform="translate(475.50,438.60) scale(0.9109,1)" font-size="44.40" fill="#000" stroke="#000" stroke-width="0.78">10 K</text>
<line x1="366.30" y1="477.90" x2="466.90" y2="477.90" stroke="#ff8000" stroke-width="4.2" stroke-linecap="round"/>
<text xml:space="preserve" transform="translate(476.75,492.80) scale(0.8965,1)" font-size="44.40" fill="#000" stroke="#000" stroke-width="0.79">50 K</text>
<line x1="366.30" y1="532.00" x2="466.90" y2="532.00" stroke="#00ff00" stroke-width="4.2" stroke-linecap="round"/>
<text xml:space="preserve" transform="translate(476.42,547.00) scale(0.9003,1)" font-size="44.40" fill="#000" stroke="#000" stroke-width="0.79">75 K</text>
<line x1="588.40" y1="421.00" x2="688.90" y2="421.00" stroke="#0000ff" stroke-width="4.2" stroke-linecap="round"/>
<text xml:space="preserve" transform="translate(697.35,436.70) scale(0.8974,1)" font-size="44.40" fill="#000" stroke="#000" stroke-width="0.79">100 K</text>
<line x1="588.40" y1="475.40" x2="688.90" y2="475.40" stroke="#800080" stroke-width="4.2" stroke-linecap="round"/>
<text xml:space="preserve" transform="translate(699.13,491.10) scale(0.8811,1)" font-size="44.40" fill="#000" stroke="#000" stroke-width="0.81">200 K</text>
<line x1="588.40" y1="529.90" x2="688.90" y2="529.90" stroke="#000000" stroke-width="4.2" stroke-linecap="round"/>
<text xml:space="preserve" transform="translate(698.97,545.60) scale(0.8825,1)" font-size="44.40" fill="#000" stroke="#000" stroke-width="0.80">300 K</text>
<defs><clipPath id="clipb"><rect x="191.3" y="737.6999999999999" width="826.5999999999999" height="576.9"/></clipPath></defs>
<g clip-path="url(#clipb)" fill="none" stroke-linejoin="round">
<path d="M198.30,1152.40 C199.25,1150.38 202.63,1143.30 204.00,1140.30 C205.37,1137.30 204.57,1135.77 206.50,1134.40 C208.43,1133.03 211.85,1132.67 215.60,1132.10 C219.35,1131.53 224.83,1131.00 229.00,1131.00 C233.17,1131.00 236.43,1131.92 240.60,1132.10 C244.77,1132.28 249.72,1132.10 254.00,1132.10 C258.28,1132.10 262.08,1132.20 266.30,1132.10 C270.52,1132.00 275.18,1131.45 279.30,1131.50 C283.42,1131.55 286.77,1132.45 291.00,1132.40 C295.23,1132.35 300.37,1131.40 304.70,1131.20 C309.03,1131.00 312.78,1131.20 317.00,1131.20 C321.22,1131.20 327.00,1131.15 330.00,1131.20 C333.00,1131.25 333.45,1131.30 335.00,1131.50 C336.55,1131.70 337.23,1129.87 339.30,1132.40 C341.37,1134.93 345.37,1142.77 347.40,1146.70 C349.43,1150.63 350.82,1154.45 351.50,1156.00" stroke="#ff0000" stroke-width="3.8" stroke-dasharray="14 12"/>
<path d="M198.30,1097.90 C199.25,1095.75 202.63,1088.08 204.00,1085.00 C205.37,1081.92 204.57,1080.87 206.50,1079.40 C208.43,1077.93 211.85,1076.92 215.60,1076.20 C219.35,1075.48 224.83,1075.28 229.00,1075.10 C233.17,1074.92 236.43,1075.10 240.60,1075.10 C244.77,1075.10 249.72,1075.40 254.00,1075.10 C258.28,1074.80 262.03,1073.70 266.30,1073.30 C270.57,1072.90 275.37,1072.65 279.60,1072.70 C283.83,1072.75 287.52,1073.87 291.70,1073.60 C295.88,1073.33 300.68,1072.03 304.70,1071.10 C308.72,1070.17 311.78,1068.72 315.80,1068.00 C319.82,1067.28 324.57,1067.10 328.80,1066.80 C333.03,1066.50 337.00,1066.12 341.20,1066.20 C345.40,1066.28 351.87,1067.12 354.00,1067.30" stroke="#ff8000" stroke-width="3.8" stroke-dasharray="14 12"/>
<path d="M198.30,1021.40 C199.25,1019.38 202.63,1012.13 204.00,1009.30 C205.37,1006.47 204.57,1005.67 206.50,1004.40 C208.43,1003.13 211.85,1001.57 215.60,1001.70 C219.35,1001.83 224.83,1004.03 229.00,1005.20 C233.17,1006.37 236.52,1007.92 240.60,1008.70 C244.68,1009.48 249.42,1009.42 253.50,1009.90 C257.58,1010.38 260.75,1011.02 265.10,1011.60 C269.45,1012.18 275.28,1012.97 279.60,1013.40 C283.92,1013.83 287.03,1014.07 291.00,1014.20 C294.97,1014.33 299.27,1014.30 303.40,1014.20 C307.53,1014.10 311.67,1014.12 315.80,1013.60 C319.93,1013.08 323.97,1011.83 328.20,1011.10 C332.43,1010.37 336.90,1009.95 341.20,1009.20 C345.50,1008.45 351.87,1007.03 354.00,1006.60" stroke="#00ff00" stroke-width="3.8" stroke-dasharray="14 12"/>
<path d="M198.30,957.90 C199.35,955.80 203.23,947.97 204.60,945.30 C205.97,942.63 204.67,942.20 206.50,941.90 C208.33,941.60 212.05,942.27 215.60,943.50 C219.15,944.73 223.72,947.27 227.80,949.30 C231.88,951.33 235.82,953.75 240.10,955.70 C244.38,957.65 249.33,959.38 253.50,961.00 C257.67,962.62 261.18,964.23 265.10,965.40 C269.02,966.57 273.30,967.08 277.00,968.00 C280.70,968.92 283.52,970.02 287.30,970.90 C291.08,971.78 295.57,972.52 299.70,973.30 C303.83,974.08 307.97,975.22 312.10,975.60 C316.23,975.98 320.48,975.37 324.50,975.60 C328.52,975.83 332.08,975.83 336.20,977.00 C340.32,978.17 347.03,981.67 349.20,982.60" stroke="#0000ff" stroke-width="3.8" stroke-dasharray="14 12"/>
<path d="M198.30,1052.40 C199.25,1050.45 202.63,1043.53 204.00,1040.70 C205.37,1037.87 204.57,1036.55 206.50,1035.40 C208.43,1034.25 211.85,1033.78 215.60,1033.80 C219.35,1033.82 224.83,1034.63 229.00,1035.50 C233.17,1036.37 236.43,1038.22 240.60,1039.00 C244.77,1039.78 249.72,1039.92 254.00,1040.20 C258.28,1040.48 262.03,1040.62 266.30,1040.70 C270.57,1040.78 275.48,1040.20 279.60,1040.70 C283.72,1041.20 286.93,1043.17 291.00,1043.70 C295.07,1044.23 299.67,1043.90 304.00,1043.90 C308.33,1043.90 312.87,1043.28 317.00,1043.70 C321.13,1044.12 324.77,1046.47 328.80,1046.40 C332.83,1046.33 337.00,1044.40 341.20,1043.30 C345.40,1042.20 351.87,1040.38 354.00,1039.80" stroke="#800080" stroke-width="3.8" stroke-dasharray="14 12"/>
<path d="M198.30,1103.90 C199.25,1101.92 202.63,1094.75 204.00,1092.00 C205.37,1089.25 204.57,1088.67 206.50,1087.40 C208.43,1086.13 211.85,1084.62 215.60,1084.40 C219.35,1084.18 224.83,1085.62 229.00,1086.10 C233.17,1086.58 236.43,1086.80 240.60,1087.30 C244.77,1087.80 249.72,1088.72 254.00,1089.10 C258.28,1089.48 262.08,1089.52 266.30,1089.60 C270.52,1089.68 275.18,1089.37 279.30,1089.60 C283.42,1089.83 286.77,1090.77 291.00,1091.00 C295.23,1091.23 300.37,1091.22 304.70,1091.00 C309.03,1090.78 312.98,1090.12 317.00,1089.70 C321.02,1089.28 325.97,1088.62 328.80,1088.50 C331.63,1088.38 332.25,1088.08 334.00,1089.00 C335.75,1089.92 336.97,1091.33 339.30,1094.00 C341.63,1096.67 346.55,1103.17 348.00,1105.00" stroke="#000000" stroke-width="3.8" stroke-dasharray="14 12"/>
<path d="M356.70,1164.00 C357.73,1164.62 361.25,1168.73 362.90,1167.70 C364.55,1166.67 365.58,1160.07 366.60,1157.80 C367.62,1155.53 367.35,1155.13 369.00,1154.10 C370.65,1153.07 374.02,1151.80 376.50,1151.60 C378.98,1151.40 381.60,1153.35 383.90,1152.90 C386.20,1152.45 387.80,1148.57 390.30,1148.90 C392.80,1149.23 396.05,1152.90 398.90,1154.90 C401.75,1156.90 403.98,1161.77 407.40,1160.90 C410.82,1160.03 415.97,1151.13 419.40,1149.70 C422.83,1148.27 424.85,1151.43 428.00,1152.30 C431.15,1153.17 434.87,1156.47 438.30,1154.90 C441.73,1153.33 445.47,1145.20 448.60,1142.90 C451.73,1140.60 454.25,1141.82 457.10,1141.10 C459.95,1140.38 463.12,1139.17 465.70,1138.60 C468.28,1138.03 470.32,1139.57 472.60,1137.70 C474.88,1135.83 477.40,1131.68 479.40,1127.40 C481.40,1123.12 482.88,1118.28 484.60,1112.00 C486.32,1105.72 488.28,1096.27 489.70,1089.70 C491.12,1083.13 491.67,1078.32 493.10,1072.60 C494.53,1066.88 496.30,1060.27 498.30,1055.40 C500.30,1050.53 502.82,1047.68 505.10,1043.40 C507.38,1039.12 509.70,1033.12 512.00,1029.70 C514.30,1026.28 516.62,1024.18 518.90,1022.90 C521.18,1021.62 523.13,1021.58 525.70,1022.00 C528.27,1022.42 531.15,1023.83 534.30,1025.40 C537.45,1026.97 541.98,1029.87 544.60,1031.40 C547.22,1032.93 547.38,1033.35 550.00,1034.60 C552.62,1035.85 556.58,1037.62 560.30,1038.90 C564.02,1040.18 569.17,1040.88 572.30,1042.30 C575.43,1043.72 576.82,1044.97 579.10,1047.40 C581.38,1049.83 583.85,1055.18 586.00,1056.90 C588.15,1058.62 590.00,1060.70 592.00,1057.70 C594.00,1054.70 595.85,1046.62 598.00,1038.90 C600.15,1031.18 602.75,1018.27 604.90,1011.40 C607.05,1004.53 609.20,1000.12 610.90,997.70 C612.60,995.28 613.53,995.47 615.10,996.90 C616.67,998.33 618.58,1002.73 620.30,1006.30 C622.02,1009.87 623.40,1014.58 625.40,1018.30 C627.40,1022.02 630.02,1026.03 632.30,1028.60 C634.58,1031.17 636.82,1033.70 639.10,1033.70 C641.38,1033.70 643.13,1031.73 646.00,1028.60 C648.87,1025.47 653.15,1018.77 656.30,1014.90 C659.45,1011.03 661.77,1007.27 664.90,1005.40 C668.03,1003.53 671.68,1004.55 675.10,1003.70 C678.52,1002.85 681.68,1001.87 685.40,1000.30 C689.12,998.73 693.12,996.30 697.40,994.30 C701.68,992.30 707.10,989.87 711.10,988.30 C715.10,986.73 718.25,985.77 721.40,984.90 C724.55,984.03 727.42,983.82 730.00,983.10 C732.58,982.38 734.45,981.83 736.90,980.60 C739.35,979.37 742.77,978.78 744.70,975.70 C746.63,972.62 747.22,973.42 748.50,962.10 C749.78,950.78 750.93,929.80 752.40,907.80 C753.87,885.80 755.90,854.23 757.30,830.10 C758.70,805.97 759.02,794.18 760.80,763.00 C762.58,731.82 765.75,643.00 768.00,643.00 C770.25,643.00 772.68,735.05 774.30,763.00 C775.92,790.95 776.17,786.57 777.70,810.70 C779.23,834.83 781.57,878.68 783.50,907.80 C785.43,936.92 787.37,965.35 789.30,985.40 C791.23,1005.45 792.83,1015.15 795.10,1028.10 C797.37,1041.05 800.30,1054.68 802.90,1063.10 C805.50,1071.52 807.95,1074.88 810.70,1078.60 C813.45,1082.32 816.48,1085.07 819.40,1085.40 C822.32,1085.73 825.45,1083.02 828.20,1080.60 C830.95,1078.18 833.00,1074.13 835.90,1070.90 C838.80,1067.67 842.42,1064.23 845.60,1061.20 C848.78,1058.17 851.82,1055.18 855.00,1052.70 C858.18,1050.22 861.20,1048.72 864.70,1046.30 C868.20,1043.88 872.77,1040.23 876.00,1038.20 C879.23,1036.17 881.67,1035.73 884.10,1034.10 C886.53,1032.47 888.43,1030.97 890.60,1028.40 C892.77,1025.83 894.93,1022.47 897.10,1018.70 C899.27,1014.93 901.45,1009.85 903.60,1005.80 C905.75,1001.75 908.12,998.72 910.00,994.40 C911.88,990.08 913.27,985.02 914.90,979.90 C916.53,974.78 918.18,969.65 919.80,963.70 C921.42,957.75 922.98,949.87 924.60,944.20 C926.22,938.53 927.88,932.67 929.50,929.70 C931.12,926.73 932.68,925.60 934.30,926.40 C935.92,927.20 937.57,929.90 939.20,934.50 C940.83,939.10 942.48,945.37 944.10,954.00 C945.72,962.63 947.28,974.17 948.90,986.30 C950.52,998.43 952.18,1013.30 953.80,1026.80 C955.42,1040.30 957.25,1055.15 958.60,1067.30 C959.95,1079.45 960.55,1087.55 961.90,1099.70 C963.25,1111.85 965.08,1128.87 966.70,1140.20 C968.32,1151.53 969.70,1160.97 971.60,1167.70 C973.50,1174.43 976.22,1178.17 978.10,1180.60 C979.98,1183.03 981.02,1182.83 982.90,1182.30 C984.78,1181.77 986.97,1179.57 989.40,1177.40 C991.83,1175.23 994.80,1172.80 997.50,1169.30 C1000.20,1165.80 1002.63,1161.25 1005.60,1156.40 C1008.57,1151.55 1012.90,1144.10 1015.30,1140.20 C1017.70,1136.30 1019.22,1134.20 1020.00,1133.00" stroke="#ff0000" stroke-width="4.5"/>
<path d="M356.70,1069.90 C357.93,1071.13 361.63,1074.62 364.10,1077.30 C366.57,1079.98 369.23,1083.32 371.50,1086.00 C373.77,1088.68 375.43,1092.98 377.70,1093.40 C379.97,1093.82 382.57,1090.55 385.10,1088.50 C387.63,1086.45 390.60,1080.90 392.90,1081.10 C395.20,1081.30 396.77,1087.12 398.90,1089.70 C401.03,1092.28 403.42,1094.73 405.70,1096.60 C407.98,1098.47 410.03,1100.77 412.60,1100.90 C415.17,1101.03 418.25,1097.27 421.10,1097.40 C423.95,1097.53 426.83,1100.83 429.70,1101.70 C432.57,1102.57 435.43,1103.03 438.30,1102.60 C441.17,1102.17 444.05,1100.97 446.90,1099.10 C449.75,1097.23 452.83,1093.25 455.40,1091.40 C457.97,1089.55 460.30,1089.85 462.30,1088.00 C464.30,1086.15 465.12,1081.15 467.40,1080.30 C469.68,1079.45 473.13,1083.05 476.00,1082.90 C478.87,1082.75 482.32,1081.70 484.60,1079.40 C486.88,1077.10 487.98,1073.38 489.70,1069.10 C491.42,1064.82 492.90,1057.98 494.90,1053.70 C496.90,1049.42 499.13,1046.25 501.70,1043.40 C504.27,1040.55 507.15,1038.73 510.30,1036.60 C513.45,1034.47 517.47,1031.88 520.60,1030.60 C523.73,1029.32 525.97,1028.48 529.10,1028.90 C532.23,1029.32 535.97,1031.25 539.40,1033.10 C542.83,1034.95 546.50,1037.62 549.70,1040.00 C552.90,1042.38 555.70,1043.88 558.60,1047.40 C561.50,1050.92 563.97,1057.10 567.10,1061.10 C570.23,1065.10 574.53,1068.82 577.40,1071.40 C580.27,1073.98 582.02,1074.88 584.30,1076.60 C586.58,1078.32 588.97,1083.13 591.10,1081.70 C593.23,1080.27 595.10,1074.57 597.10,1068.00 C599.10,1061.43 601.10,1050.58 603.10,1042.30 C605.10,1034.02 607.38,1022.87 609.10,1018.30 C610.82,1013.73 611.82,1014.05 613.40,1014.90 C614.98,1015.75 616.88,1020.55 618.60,1023.40 C620.32,1026.25 621.42,1030.00 623.70,1032.00 C625.98,1034.00 629.15,1035.12 632.30,1035.40 C635.45,1035.68 639.17,1035.12 642.60,1033.70 C646.03,1032.28 649.48,1028.90 652.90,1026.90 C656.32,1024.90 659.97,1022.85 663.10,1021.70 C666.23,1020.55 668.83,1019.85 671.70,1020.00 C674.57,1020.15 677.43,1022.17 680.30,1022.60 C683.17,1023.03 685.77,1023.47 688.90,1022.60 C692.03,1021.73 695.40,1019.27 699.10,1017.40 C702.80,1015.53 707.38,1013.68 711.10,1011.40 C714.82,1009.12 718.25,1005.98 721.40,1003.70 C724.55,1001.42 727.73,998.80 730.00,997.70 C732.27,996.60 732.55,998.50 735.00,997.10 C737.45,995.70 742.28,994.48 744.70,989.30 C747.12,984.12 748.05,979.58 749.50,966.00 C750.95,952.42 751.93,930.45 753.40,907.80 C754.87,885.15 756.95,854.23 758.30,830.10 C759.65,805.97 759.83,792.52 761.50,763.00 C763.17,733.48 766.05,653.00 768.30,653.00 C770.55,653.00 773.12,733.48 775.00,763.00 C776.88,792.52 777.87,802.73 779.60,830.10 C781.33,857.47 783.13,896.45 785.40,927.20 C787.67,957.95 790.28,992.60 793.20,1014.60 C796.12,1036.60 799.67,1049.18 802.90,1059.20 C806.13,1069.22 809.68,1071.47 812.60,1074.70 C815.52,1077.93 817.17,1079.23 820.40,1078.60 C823.63,1077.97 828.77,1073.48 832.00,1070.90 C835.23,1068.32 835.97,1065.58 839.80,1063.10 C843.63,1060.62 850.85,1058.27 855.00,1056.00 C859.15,1053.73 861.20,1051.40 864.70,1049.50 C868.20,1047.60 872.22,1045.95 876.00,1044.60 C879.78,1043.25 883.88,1043.55 887.40,1041.40 C890.92,1039.25 894.13,1036.02 897.10,1031.70 C900.07,1027.38 902.50,1021.72 905.20,1015.50 C907.90,1009.28 910.87,1001.97 913.30,994.40 C915.73,986.83 917.65,979.00 919.80,970.10 C921.95,961.20 924.32,947.73 926.20,941.00 C928.08,934.27 929.62,932.00 931.10,929.70 C932.58,927.40 933.48,925.85 935.10,927.20 C936.72,928.55 939.03,930.65 940.80,937.80 C942.57,944.95 944.08,957.97 945.70,970.10 C947.32,982.23 948.88,997.10 950.50,1010.60 C952.12,1024.10 953.50,1036.25 955.40,1051.10 C957.30,1065.95 959.75,1084.85 961.90,1099.70 C964.05,1114.55 966.15,1129.68 968.30,1140.20 C970.45,1150.72 972.10,1157.42 974.80,1162.80 C977.50,1168.18 981.80,1171.15 984.50,1172.50 C987.20,1173.85 988.30,1173.32 991.00,1170.90 C993.70,1168.48 997.47,1162.32 1000.70,1158.00 C1003.93,1153.68 1007.18,1148.67 1010.40,1145.00 C1013.62,1141.33 1018.40,1137.50 1020.00,1136.00" stroke="#ff8000" stroke-width="4.5"/>
<path d="M356.70,1014.20 C357.93,1015.02 361.63,1017.77 364.10,1019.10 C366.57,1020.43 369.02,1020.55 371.50,1022.20 C373.98,1023.85 376.43,1026.88 379.00,1029.00 C381.57,1031.12 384.45,1033.07 386.90,1034.90 C389.35,1036.73 391.13,1037.87 393.70,1040.00 C396.27,1042.13 399.15,1045.70 402.30,1047.70 C405.45,1049.70 409.17,1052.57 412.60,1052.00 C416.03,1051.43 419.77,1044.30 422.90,1044.30 C426.03,1044.30 428.55,1049.28 431.40,1052.00 C434.25,1054.72 437.13,1058.17 440.00,1060.60 C442.87,1063.03 445.45,1066.03 448.60,1066.60 C451.75,1067.17 455.48,1064.72 458.90,1064.00 C462.32,1063.28 465.68,1062.30 469.10,1062.30 C472.52,1062.30 476.25,1064.57 479.40,1064.00 C482.55,1063.43 485.42,1061.75 488.00,1058.90 C490.58,1056.05 492.62,1049.77 494.90,1046.90 C497.18,1044.03 499.42,1042.13 501.70,1041.70 C503.98,1041.27 506.03,1042.87 508.60,1044.30 C511.17,1045.73 513.97,1048.30 517.10,1050.30 C520.23,1052.30 523.97,1054.17 527.40,1056.30 C530.83,1058.43 534.27,1060.82 537.70,1063.10 C541.13,1065.38 544.52,1068.62 548.00,1070.00 C551.48,1071.38 555.12,1071.45 558.60,1071.40 C562.08,1071.35 566.05,1068.83 568.90,1069.70 C571.75,1070.57 573.42,1072.03 575.70,1076.60 C577.98,1081.17 580.32,1091.10 582.60,1097.10 C584.88,1103.10 587.55,1109.73 589.40,1112.60 C591.25,1115.47 591.98,1116.88 593.70,1114.30 C595.42,1111.72 597.55,1104.53 599.70,1097.10 C601.85,1089.67 604.32,1077.12 606.60,1069.70 C608.88,1062.28 610.83,1057.17 613.40,1052.60 C615.97,1048.03 618.85,1043.58 622.00,1042.30 C625.15,1041.02 628.58,1043.90 632.30,1044.90 C636.02,1045.90 640.30,1048.17 644.30,1048.30 C648.30,1048.43 652.02,1047.13 656.30,1045.70 C660.58,1044.27 665.72,1041.13 670.00,1039.70 C674.28,1038.27 678.28,1037.23 682.00,1037.10 C685.72,1036.97 688.58,1040.03 692.30,1038.90 C696.02,1037.77 700.30,1033.17 704.30,1030.30 C708.30,1027.43 712.02,1023.98 716.30,1021.70 C720.58,1019.42 726.88,1017.78 730.00,1016.60 C733.12,1015.42 732.55,1016.57 735.00,1014.60 C737.45,1012.63 742.12,1011.28 744.70,1004.80 C747.28,998.32 748.73,991.87 750.50,975.70 C752.27,959.53 753.68,932.07 755.30,907.80 C756.92,883.53 758.95,852.57 760.20,830.10 C761.45,807.63 762.17,787.52 762.80,773.00 C763.43,758.48 763.00,761.33 764.00,743.00 C765.00,724.67 767.25,663.00 768.80,663.00 C770.35,663.00 772.18,724.67 773.30,743.00 C774.42,761.33 774.62,758.48 775.50,773.00 C776.38,787.52 777.27,804.40 778.60,830.10 C779.93,855.80 781.38,898.08 783.50,927.20 C785.62,956.32 788.38,984.10 791.30,1004.80 C794.22,1025.50 797.77,1040.38 801.00,1051.40 C804.23,1062.42 807.80,1067.02 810.70,1070.90 C813.60,1074.78 815.48,1074.70 818.40,1074.70 C821.32,1074.70 824.63,1072.52 828.20,1070.90 C831.77,1069.28 835.33,1066.68 839.80,1065.00 C844.27,1063.32 850.85,1062.30 855.00,1060.80 C859.15,1059.30 861.20,1057.62 864.70,1056.00 C868.20,1054.38 872.22,1052.58 876.00,1051.10 C879.78,1049.62 883.88,1049.25 887.40,1047.10 C890.92,1044.95 893.87,1042.38 897.10,1038.20 C900.33,1034.02 903.83,1028.48 906.80,1022.00 C909.77,1015.52 912.47,1007.40 914.90,999.30 C917.33,991.20 919.23,982.03 921.40,973.40 C923.57,964.77 926.02,953.72 927.90,947.50 C929.78,941.28 931.35,938.00 932.70,936.10 C934.05,934.20 934.65,934.47 936.00,936.10 C937.35,937.73 939.18,938.88 940.80,945.90 C942.42,952.92 944.08,966.07 945.70,978.20 C947.32,990.33 948.62,1003.85 950.50,1018.70 C952.38,1033.55 954.57,1051.10 957.00,1067.30 C959.43,1083.50 962.40,1102.45 965.10,1115.90 C967.80,1129.35 970.50,1140.40 973.20,1148.00 C975.90,1155.60 978.83,1158.75 981.30,1161.50 C983.77,1164.25 985.30,1164.92 988.00,1164.50 C990.70,1164.08 994.30,1161.58 997.50,1159.00 C1000.70,1156.42 1003.45,1152.67 1007.20,1149.00 C1010.95,1145.33 1017.87,1139.00 1020.00,1137.00" stroke="#00ff00" stroke-width="4.5"/>
<path d="M356.70,993.80 C357.52,994.20 359.75,994.45 361.60,996.20 C363.45,997.95 365.93,1001.72 367.80,1004.30 C369.67,1006.88 370.53,1008.82 372.80,1011.70 C375.07,1014.58 379.13,1020.25 381.40,1021.60 C383.67,1022.95 384.33,1020.32 386.40,1019.80 C388.47,1019.28 391.43,1018.62 393.80,1018.50 C396.17,1018.38 398.05,1018.37 400.60,1019.10 C403.15,1019.83 406.25,1021.70 409.10,1022.90 C411.95,1024.10 414.83,1026.17 417.70,1026.30 C420.57,1026.43 423.43,1023.98 426.30,1023.70 C429.17,1023.42 432.33,1023.60 434.90,1024.60 C437.47,1025.60 438.85,1027.42 441.70,1029.70 C444.55,1031.98 449.13,1037.43 452.00,1038.30 C454.87,1039.17 456.33,1035.90 458.90,1034.90 C461.47,1033.90 464.83,1030.88 467.40,1032.30 C469.97,1033.72 472.02,1040.12 474.30,1043.40 C476.58,1046.68 478.82,1049.72 481.10,1052.00 C483.38,1054.28 485.42,1056.67 488.00,1057.10 C490.58,1057.53 493.75,1055.17 496.60,1054.60 C499.45,1054.03 502.53,1053.28 505.10,1053.70 C507.67,1054.12 509.13,1055.38 512.00,1057.10 C514.87,1058.82 519.15,1061.42 522.30,1064.00 C525.45,1066.58 527.75,1070.03 530.90,1072.60 C534.05,1075.17 537.78,1077.40 541.20,1079.40 C544.62,1081.40 548.22,1083.50 551.40,1084.60 C554.58,1085.70 557.38,1085.48 560.30,1086.00 C563.22,1086.52 566.05,1085.85 568.90,1087.70 C571.75,1089.55 574.83,1092.67 577.40,1097.10 C579.97,1101.53 582.02,1110.00 584.30,1114.30 C586.58,1118.60 588.82,1122.90 591.10,1122.90 C593.38,1122.90 595.70,1119.17 598.00,1114.30 C600.30,1109.43 602.33,1100.57 604.90,1093.70 C607.47,1086.83 610.55,1077.82 613.40,1073.10 C616.25,1068.38 619.13,1065.97 622.00,1065.40 C624.87,1064.83 627.45,1067.98 630.60,1069.70 C633.75,1071.42 637.18,1075.70 640.90,1075.70 C644.62,1075.70 648.90,1071.70 652.90,1069.70 C656.90,1067.70 661.20,1064.27 664.90,1063.70 C668.60,1063.13 671.97,1065.30 675.10,1066.30 C678.23,1067.30 680.55,1069.98 683.70,1069.70 C686.85,1069.42 690.28,1066.60 694.00,1064.60 C697.72,1062.60 702.28,1059.42 706.00,1057.70 C709.72,1055.98 712.30,1056.02 716.30,1054.30 C720.30,1052.58 726.25,1049.17 730.00,1047.40 C733.75,1045.63 736.03,1046.27 738.80,1043.70 C741.57,1041.13 744.48,1041.72 746.60,1032.00 C748.72,1022.28 749.88,1006.10 751.50,985.40 C753.12,964.70 754.53,933.68 756.30,907.80 C758.07,881.92 760.48,849.52 762.10,830.10 C763.72,810.68 764.87,798.90 766.00,791.30 C767.13,783.70 767.77,783.87 768.90,784.50 C770.03,785.13 771.50,784.27 772.80,795.10 C774.10,805.93 775.23,827.48 776.70,849.50 C778.17,871.52 779.50,899.68 781.60,927.20 C783.70,954.72 786.40,991.95 789.30,1014.60 C792.20,1037.25 795.43,1051.45 799.00,1063.10 C802.57,1074.75 806.82,1079.97 810.70,1084.50 C814.58,1089.03 818.10,1089.98 822.30,1090.30 C826.50,1090.62 831.68,1087.70 835.90,1086.40 C840.12,1085.10 844.42,1083.52 847.60,1082.50 C850.78,1081.48 852.15,1081.75 855.00,1080.30 C857.85,1078.85 861.20,1075.43 864.70,1073.80 C868.20,1072.17 872.48,1071.32 876.00,1070.50 C879.52,1069.68 882.82,1069.97 885.80,1068.90 C888.78,1067.83 891.20,1066.80 893.90,1064.10 C896.60,1061.40 899.58,1056.22 902.00,1052.70 C904.42,1049.18 906.25,1047.32 908.40,1043.00 C910.55,1038.68 913.00,1033.55 914.90,1026.80 C916.80,1020.05 918.18,1009.78 919.80,1002.50 C921.42,995.22 922.98,988.22 924.60,983.10 C926.22,977.98 927.88,973.97 929.50,971.80 C931.12,969.63 932.68,968.22 934.30,970.10 C935.92,971.98 937.57,976.35 939.20,983.10 C940.83,989.85 942.48,1000.62 944.10,1010.60 C945.72,1020.58 947.28,1032.20 948.90,1043.00 C950.52,1053.80 951.92,1063.25 953.80,1075.40 C955.68,1087.55 958.05,1103.47 960.20,1115.90 C962.35,1128.33 964.27,1141.15 966.70,1150.00 C969.13,1158.85 971.83,1164.67 974.80,1169.00 C977.77,1173.33 981.47,1174.50 984.50,1176.00 C987.53,1177.50 989.75,1178.50 993.00,1178.00 C996.25,1177.50 999.50,1175.00 1004.00,1173.00 C1008.50,1171.00 1017.33,1167.17 1020.00,1166.00" stroke="#0000ff" stroke-width="4.5"/>
<path d="M356.70,1050.10 C357.93,1050.92 361.63,1053.55 364.10,1055.00 C366.57,1056.45 369.02,1057.13 371.50,1058.80 C373.98,1060.47 376.43,1064.13 379.00,1065.00 C381.57,1065.87 384.45,1064.02 386.90,1064.00 C389.35,1063.98 391.42,1063.47 393.70,1064.90 C395.98,1066.33 398.32,1069.75 400.60,1072.60 C402.88,1075.45 405.27,1080.00 407.40,1082.00 C409.53,1084.00 411.12,1085.32 413.40,1084.60 C415.68,1083.88 418.38,1079.57 421.10,1077.70 C423.82,1075.83 426.55,1073.68 429.70,1073.40 C432.85,1073.12 436.57,1074.85 440.00,1076.00 C443.43,1077.15 446.87,1078.73 450.30,1080.30 C453.73,1081.87 457.17,1084.55 460.60,1085.40 C464.03,1086.25 467.48,1085.40 470.90,1085.40 C474.32,1085.40 477.97,1084.68 481.10,1085.40 C484.23,1086.12 486.83,1088.12 489.70,1089.70 C492.57,1091.28 495.43,1093.75 498.30,1094.90 C501.17,1096.05 503.77,1095.47 506.90,1096.60 C510.03,1097.73 513.68,1100.13 517.10,1101.70 C520.52,1103.27 523.97,1105.57 527.40,1106.00 C530.83,1106.43 534.55,1104.95 537.70,1104.30 C540.85,1103.65 542.82,1102.15 546.30,1102.10 C549.78,1102.05 554.55,1104.25 558.60,1104.00 C562.65,1103.75 567.47,1099.73 570.60,1100.60 C573.73,1101.47 575.12,1104.63 577.40,1109.20 C579.68,1113.77 581.72,1123.58 584.30,1128.00 C586.88,1132.42 590.33,1135.70 592.90,1135.70 C595.47,1135.70 597.13,1133.00 599.70,1128.00 C602.27,1123.00 605.43,1112.27 608.30,1105.70 C611.17,1099.13 614.05,1092.73 616.90,1088.60 C619.75,1084.47 622.27,1081.48 625.40,1080.90 C628.53,1080.32 631.70,1083.25 635.70,1085.10 C639.70,1086.95 645.12,1091.70 649.40,1092.00 C653.68,1092.30 656.53,1088.62 661.40,1086.90 C666.27,1085.18 673.45,1081.70 678.60,1081.70 C683.75,1081.70 688.02,1085.62 692.30,1086.90 C696.58,1088.18 700.30,1089.98 704.30,1089.40 C708.30,1088.82 712.02,1085.13 716.30,1083.40 C720.58,1081.67 726.57,1080.77 730.00,1079.00 C733.43,1077.23 734.45,1076.10 736.90,1072.80 C739.35,1069.50 742.27,1068.90 744.70,1059.20 C747.13,1049.50 749.23,1036.60 751.50,1014.60 C753.77,992.60 756.20,951.48 758.30,927.20 C760.40,902.92 762.17,881.53 764.10,868.90 C766.03,856.27 768.12,851.40 769.90,851.40 C771.68,851.40 773.18,856.27 774.80,868.90 C776.42,881.53 777.83,906.17 779.60,927.20 C781.37,948.23 782.82,974.07 785.40,995.10 C787.98,1016.13 791.53,1038.83 795.10,1053.40 C798.67,1067.97 802.92,1075.70 806.80,1082.50 C810.68,1089.30 814.83,1092.25 818.40,1094.20 C821.97,1096.15 824.63,1094.68 828.20,1094.20 C831.77,1093.72 835.33,1092.55 839.80,1091.30 C844.27,1090.05 850.85,1088.27 855.00,1086.70 C859.15,1085.13 861.20,1083.78 864.70,1081.90 C868.20,1080.02 872.22,1077.30 876.00,1075.40 C879.78,1073.50 884.15,1072.38 887.40,1070.50 C890.65,1068.62 892.80,1067.33 895.50,1064.10 C898.20,1060.87 901.18,1055.42 903.60,1051.10 C906.02,1046.78 907.85,1043.05 910.00,1038.20 C912.15,1033.35 914.60,1026.60 916.50,1022.00 C918.40,1017.40 919.65,1013.85 921.40,1010.60 C923.15,1007.35 925.12,1003.03 927.00,1002.50 C928.88,1001.97 930.67,1003.35 932.70,1007.40 C934.73,1011.45 937.03,1018.70 939.20,1026.80 C941.37,1034.90 943.53,1046.55 945.70,1056.00 C947.87,1065.45 950.05,1074.87 952.20,1083.50 C954.35,1092.13 956.45,1100.78 958.60,1107.80 C960.75,1114.82 962.67,1120.48 965.10,1125.60 C967.53,1130.72 970.23,1135.27 973.20,1138.50 C976.17,1141.73 979.67,1143.37 982.90,1145.00 C986.13,1146.63 989.08,1147.90 992.60,1148.30 C996.12,1148.70 999.43,1148.03 1004.00,1147.40 C1008.57,1146.77 1017.33,1144.98 1020.00,1144.50" stroke="#800080" stroke-width="4.5"/>
<path d="M356.70,1114.50 C357.52,1113.88 359.75,1109.98 361.60,1110.80 C363.45,1111.62 365.93,1118.37 367.80,1119.40 C369.67,1120.43 370.53,1116.38 372.80,1117.00 C375.07,1117.62 378.77,1123.08 381.40,1123.10 C384.03,1123.12 385.98,1117.80 388.60,1117.10 C391.22,1116.40 394.53,1119.03 397.10,1118.90 C399.67,1118.77 401.13,1116.30 404.00,1116.30 C406.87,1116.30 410.30,1117.90 414.30,1118.90 C418.30,1119.90 423.43,1121.02 428.00,1122.30 C432.57,1123.58 437.13,1125.17 441.70,1126.60 C446.27,1128.03 451.12,1129.48 455.40,1130.90 C459.68,1132.32 463.68,1134.53 467.40,1135.10 C471.12,1135.67 474.55,1134.30 477.70,1134.30 C480.85,1134.30 483.15,1134.53 486.30,1135.10 C489.45,1135.67 493.17,1137.12 496.60,1137.70 C500.03,1138.28 503.48,1137.45 506.90,1138.60 C510.32,1139.75 513.40,1143.47 517.10,1144.60 C520.80,1145.73 525.38,1144.83 529.10,1145.40 C532.82,1145.97 536.25,1147.28 539.40,1148.00 C542.55,1148.72 544.52,1150.03 548.00,1149.70 C551.48,1149.37 556.53,1145.90 560.30,1146.00 C564.07,1146.10 566.88,1148.15 570.60,1150.30 C574.32,1152.45 579.47,1157.77 582.60,1158.90 C585.73,1160.03 587.12,1158.82 589.40,1157.10 C591.68,1155.38 593.72,1152.88 596.30,1148.60 C598.88,1144.32 602.05,1137.12 604.90,1131.40 C607.75,1125.68 610.83,1117.72 613.40,1114.30 C615.97,1110.88 618.02,1110.33 620.30,1110.90 C622.58,1111.47 624.53,1115.42 627.10,1117.70 C629.67,1119.98 632.55,1123.45 635.70,1124.60 C638.85,1125.75 642.85,1125.32 646.00,1124.60 C649.15,1123.88 651.45,1121.58 654.60,1120.30 C657.75,1119.02 661.48,1117.18 664.90,1116.90 C668.32,1116.62 671.68,1117.90 675.10,1118.60 C678.52,1119.30 681.40,1120.53 685.40,1121.10 C689.40,1121.67 695.38,1122.00 699.10,1122.00 C702.82,1122.00 704.27,1122.67 707.70,1121.10 C711.13,1119.53 715.98,1114.88 719.70,1112.60 C723.42,1110.32 727.45,1109.18 730.00,1107.40 C732.55,1105.62 732.88,1106.05 735.00,1101.90 C737.12,1097.75 740.12,1095.43 742.70,1082.50 C745.28,1069.57 747.90,1043.72 750.50,1024.30 C753.10,1004.88 755.72,983.80 758.30,966.00 C760.88,948.20 763.90,926.57 766.00,917.50 C768.10,908.43 769.28,909.98 770.90,911.60 C772.52,913.22 773.92,916.52 775.70,927.20 C777.48,937.88 779.33,957.90 781.60,975.70 C783.87,993.50 786.40,1016.52 789.30,1034.00 C792.20,1051.48 795.43,1069.28 799.00,1080.60 C802.57,1091.92 806.82,1097.37 810.70,1101.90 C814.58,1106.43 818.42,1107.15 822.30,1107.80 C826.18,1108.45 829.78,1106.78 834.00,1105.80 C838.22,1104.82 844.10,1102.92 847.60,1101.90 C851.10,1100.88 852.15,1100.88 855.00,1099.70 C857.85,1098.52 861.20,1096.68 864.70,1094.80 C868.20,1092.92 872.48,1090.55 876.00,1088.40 C879.52,1086.25 883.10,1084.33 885.80,1081.90 C888.50,1079.47 890.05,1077.58 892.20,1073.80 C894.35,1070.02 896.53,1064.07 898.70,1059.20 C900.87,1054.33 903.03,1049.18 905.20,1044.60 C907.37,1040.02 909.68,1034.67 911.70,1031.70 C913.72,1028.73 915.42,1026.53 917.30,1026.80 C919.18,1027.07 920.97,1029.78 923.00,1033.30 C925.03,1036.82 927.33,1042.23 929.50,1047.90 C931.67,1053.57 933.57,1060.55 936.00,1067.30 C938.43,1074.05 941.40,1081.92 944.10,1088.40 C946.80,1094.88 949.23,1100.53 952.20,1106.20 C955.17,1111.87 958.67,1117.82 961.90,1122.40 C965.13,1126.98 968.37,1130.35 971.60,1133.70 C974.83,1137.05 978.07,1140.12 981.30,1142.50 C984.53,1144.88 987.77,1146.67 991.00,1148.00 C994.23,1149.33 997.47,1150.08 1000.70,1150.50 C1003.93,1150.92 1007.18,1150.75 1010.40,1150.50 C1013.62,1150.25 1018.40,1149.25 1020.00,1149.00" stroke="#000000" stroke-width="4.5"/>
</g>
<line x1="191.30" y1="1314.60" x2="209.30" y2="1314.60" stroke="#000" stroke-width="4" stroke-linecap="butt"/>
<line x1="1017.90" y1="1314.60" x2="999.90" y2="1314.60" stroke="#000" stroke-width="4" stroke-linecap="butt"/>
<line x1="191.30" y1="1256.91" x2="202.30" y2="1256.91" stroke="#000" stroke-width="4" stroke-linecap="butt"/>
<line x1="1017.90" y1="1256.91" x2="1006.90" y2="1256.91" stroke="#000" stroke-width="4" stroke-linecap="butt"/>
<line x1="191.30" y1="1199.22" x2="209.30" y2="1199.22" stroke="#000" stroke-width="4" stroke-linecap="butt"/>
<line x1="1017.90" y1="1199.22" x2="999.90" y2="1199.22" stroke="#000" stroke-width="4" stroke-linecap="butt"/>
<line x1="191.30" y1="1141.53" x2="202.30" y2="1141.53" stroke="#000" stroke-width="4" stroke-linecap="butt"/>
<line x1="1017.90" y1="1141.53" x2="1006.90" y2="1141.53" stroke="#000" stroke-width="4" stroke-linecap="butt"/>
<line x1="191.30" y1="1083.84" x2="209.30" y2="1083.84" stroke="#000" stroke-width="4" stroke-linecap="butt"/>
<line x1="1017.90" y1="1083.84" x2="999.90" y2="1083.84" stroke="#000" stroke-width="4" stroke-linecap="butt"/>
<line x1="191.30" y1="1026.15" x2="202.30" y2="1026.15" stroke="#000" stroke-width="4" stroke-linecap="butt"/>
<line x1="1017.90" y1="1026.15" x2="1006.90" y2="1026.15" stroke="#000" stroke-width="4" stroke-linecap="butt"/>
<line x1="191.30" y1="968.46" x2="209.30" y2="968.46" stroke="#000" stroke-width="4" stroke-linecap="butt"/>
<line x1="1017.90" y1="968.46" x2="999.90" y2="968.46" stroke="#000" stroke-width="4" stroke-linecap="butt"/>
<line x1="191.30" y1="910.77" x2="202.30" y2="910.77" stroke="#000" stroke-width="4" stroke-linecap="butt"/>
<line x1="1017.90" y1="910.77" x2="1006.90" y2="910.77" stroke="#000" stroke-width="4" stroke-linecap="butt"/>
<line x1="191.30" y1="853.08" x2="209.30" y2="853.08" stroke="#000" stroke-width="4" stroke-linecap="butt"/>
<line x1="1017.90" y1="853.08" x2="999.90" y2="853.08" stroke="#000" stroke-width="4" stroke-linecap="butt"/>
<line x1="191.30" y1="795.39" x2="202.30" y2="795.39" stroke="#000" stroke-width="4" stroke-linecap="butt"/>
<line x1="1017.90" y1="795.39" x2="1006.90" y2="795.39" stroke="#000" stroke-width="4" stroke-linecap="butt"/>
<line x1="191.30" y1="737.70" x2="209.30" y2="737.70" stroke="#000" stroke-width="4" stroke-linecap="butt"/>
<line x1="1017.90" y1="737.70" x2="999.90" y2="737.70" stroke="#000" stroke-width="4" stroke-linecap="butt"/>
<line x1="191.30" y1="1314.60" x2="191.30" y2="1297.60" stroke="#000" stroke-width="4" stroke-linecap="butt"/>
<line x1="191.30" y1="737.70" x2="191.30" y2="754.70" stroke="#000" stroke-width="4" stroke-linecap="butt"/>
<line x1="273.96" y1="1314.60" x2="273.96" y2="1304.60" stroke="#000" stroke-width="4" stroke-linecap="butt"/>
<line x1="273.96" y1="737.70" x2="273.96" y2="747.70" stroke="#000" stroke-width="4" stroke-linecap="butt"/>
<line x1="356.62" y1="1314.60" x2="356.62" y2="1297.60" stroke="#000" stroke-width="4" stroke-linecap="butt"/>
<line x1="356.62" y1="737.70" x2="356.62" y2="754.70" stroke="#000" stroke-width="4" stroke-linecap="butt"/>
<line x1="439.28" y1="1314.60" x2="439.28" y2="1304.60" stroke="#000" stroke-width="4" stroke-linecap="butt"/>
<line x1="439.28" y1="737.70" x2="439.28" y2="747.70" stroke="#000" stroke-width="4" stroke-linecap="butt"/>
<line x1="521.94" y1="1314.60" x2="521.94" y2="1297.60" stroke="#000" stroke-width="4" stroke-linecap="butt"/>
<line x1="521.94" y1="737.70" x2="521.94" y2="754.70" stroke="#000" stroke-width="4" stroke-linecap="butt"/>
<line x1="604.60" y1="1314.60" x2="604.60" y2="1304.60" stroke="#000" stroke-width="4" stroke-linecap="butt"/>
<line x1="604.60" y1="737.70" x2="604.60" y2="747.70" stroke="#000" stroke-width="4" stroke-linecap="butt"/>
<line x1="687.26" y1="1314.60" x2="687.26" y2="1297.60" stroke="#000" stroke-width="4" stroke-linecap="butt"/>
<line x1="687.26" y1="737.70" x2="687.26" y2="754.70" stroke="#000" stroke-width="4" stroke-linecap="butt"/>
<line x1="769.92" y1="1314.60" x2="769.92" y2="1304.60" stroke="#000" stroke-width="4" stroke-linecap="butt"/>
<line x1="769.92" y1="737.70" x2="769.92" y2="747.70" stroke="#000" stroke-width="4" stroke-linecap="butt"/>
<line x1="852.58" y1="1314.60" x2="852.58" y2="1297.60" stroke="#000" stroke-width="4" stroke-linecap="butt"/>
<line x1="852.58" y1="737.70" x2="852.58" y2="754.70" stroke="#000" stroke-width="4" stroke-linecap="butt"/>
<line x1="935.24" y1="1314.60" x2="935.24" y2="1304.60" stroke="#000" stroke-width="4" stroke-linecap="butt"/>
<line x1="935.24" y1="737.70" x2="935.24" y2="747.70" stroke="#000" stroke-width="4" stroke-linecap="butt"/>
<line x1="1017.90" y1="1314.60" x2="1017.90" y2="1297.60" stroke="#000" stroke-width="4" stroke-linecap="butt"/>
<line x1="1017.90" y1="737.70" x2="1017.90" y2="754.70" stroke="#000" stroke-width="4" stroke-linecap="butt"/>
<rect x="191.3" y="737.6999999999999" width="826.5999999999999" height="576.9" fill="none" stroke="#000" stroke-width="4.4" stroke-linejoin="round"/>
<text xml:space="preserve" transform="translate(109.69,1327.80) scale(0.9336,1)" font-size="44.00" fill="#000" stroke="#000" stroke-width="0.75">500</text>
<text xml:space="preserve" transform="translate(109.68,1212.42) scale(0.9337,1)" font-size="44.00" fill="#000" stroke="#000" stroke-width="0.75">600</text>
<text xml:space="preserve" transform="translate(109.70,1097.04) scale(0.9335,1)" font-size="44.00" fill="#000" stroke="#000" stroke-width="0.75">700</text>
<text xml:space="preserve" transform="translate(109.68,981.66) scale(0.9338,1)" font-size="44.00" fill="#000" stroke="#000" stroke-width="0.75">800</text>
<text xml:space="preserve" transform="translate(109.68,866.28) scale(0.9338,1)" font-size="44.00" fill="#000" stroke="#000" stroke-width="0.75">900</text>
<text xml:space="preserve" transform="translate(88.91,750.90) scale(0.9365,1)" font-size="44.00" fill="#000" stroke="#000" stroke-width="0.75">1000</text>
<text xml:space="preserve" transform="translate(154.85,1365.00) scale(0.9554,1)" font-size="43.00" fill="#000" stroke="#000" stroke-width="0.72">0.00</text>
<text xml:space="preserve" transform="translate(320.19,1365.00) scale(0.8913,1)" font-size="43.00" fill="#000" stroke="#000" stroke-width="0.77">0.01</text>
<text xml:space="preserve" transform="translate(485.84,1365.00) scale(0.9553,1)" font-size="43.00" fill="#000" stroke="#000" stroke-width="0.72">0.02</text>
<text xml:space="preserve" transform="translate(650.83,1365.00) scale(0.9554,1)" font-size="43.00" fill="#000" stroke="#000" stroke-width="0.72">0.03</text>
<text xml:space="preserve" transform="translate(815.67,1365.00) scale(0.9556,1)" font-size="43.00" fill="#000" stroke="#000" stroke-width="0.72">0.04</text>
<text xml:space="preserve" transform="translate(981.47,1365.00) scale(0.9554,1)" font-size="43.00" fill="#000" stroke="#000" stroke-width="0.72">0.05</text>
<text xml:space="preserve" transform="translate(403.61,1414.90) scale(0.9453,1)" font-size="50.80" fill="#000" stroke="#000" stroke-width="0.86">Photon Energy (eV)</text>
<text xml:space="preserve" transform="translate(217.98,813.60) scale(0.9649,1)" font-size="73.00" fill="#000" stroke="#000" stroke-width="1.21">(b)</text>
<text xml:space="preserve" transform="translate(71.30,1223.64) rotate(-90) scale(1.3742,1)" font-size="62.00" fill="#000" stroke="#000" stroke-width="0.72">σ</text>
<text xml:space="preserve" transform="translate(100.00,1184.74) rotate(-90) scale(0.6904,1)" font-size="44.40" fill="#000" stroke="#000" stroke-width="1.03">1</text>
<text xml:space="preserve" transform="translate(70.10,1164.82) rotate(-90) scale(1.0516,1)" font-size="74.00" fill="#000" stroke="#000" stroke-width="0.00">(</text>
<text xml:space="preserve" transform="translate(70.70,1134.39) rotate(-90) scale(0.9963,1)" font-size="68.00" font-style="italic" fill="#000" stroke="#000" stroke-width="1.09">ω</text>
<text xml:space="preserve" transform="translate(70.10,1093.66) rotate(-90) scale(1.0832,1)" font-size="74.00" fill="#000" stroke="#000" stroke-width="0.00">)</text>
<text xml:space="preserve" transform="translate(70.10,1051.70) rotate(-90) scale(1.1042,1)" font-size="74.00" fill="#000" stroke="#000" stroke-width="0.00">(</text>
<text xml:space="preserve" transform="translate(70.50,1025.21) rotate(-90) scale(1.0693,1)" font-size="69.50" fill="#000" stroke="#000" stroke-width="1.04">Ω</text>
<text xml:space="preserve" transform="translate(29.80,970.65) rotate(-90) scale(0.9780,1)" font-size="40.70" fill="#000" stroke="#000" stroke-width="0.67">-</text>
<text xml:space="preserve" transform="translate(29.80,954.29) rotate(-90) scale(0.7573,1)" font-size="40.70" fill="#000" stroke="#000" stroke-width="0.86">1</text>
<text xml:space="preserve" transform="translate(69.20,932.23) rotate(-90) scale(1.0687,1)" font-size="68.50" fill="#000" stroke="#000" stroke-width="1.03">cm</text>
<text xml:space="preserve" transform="translate(29.80,839.43) rotate(-90) scale(0.9024,1)" font-size="40.70" fill="#000" stroke="#000" stroke-width="0.72">-</text>
<text xml:space="preserve" transform="translate(29.80,822.91) rotate(-90) scale(0.7084,1)" font-size="40.70" fill="#000" stroke="#000" stroke-width="0.92">1</text>
<text xml:space="preserve" transform="translate(70.10,804.48) rotate(-90) scale(1.1305,1)" font-size="74.00" fill="#000" stroke="#000" stroke-width="0.00">)</text>
<defs><clipPath id="clipc"><rect x="191.5" y="1505.0" width="355.0" height="461.70000000000005"/></clipPath></defs>
<g clip-path="url(#clipc)" fill="none" stroke-linejoin="round">
<path d="M201.40,1975.00 C201.50,1973.60 201.48,1974.10 202.00,1966.60 C202.52,1959.10 203.67,1941.10 204.50,1930.00 C205.33,1918.90 206.18,1908.33 207.00,1900.00 C207.82,1891.67 208.33,1888.55 209.40,1880.00 C210.47,1871.45 212.17,1857.32 213.40,1848.70 C214.63,1840.08 215.67,1834.70 216.80,1828.30 C217.93,1821.90 219.00,1815.95 220.20,1810.30 C221.40,1804.65 222.58,1799.32 224.00,1794.40 C225.42,1789.48 227.12,1785.33 228.70,1780.80 C230.28,1776.27 231.80,1771.73 233.50,1767.20 C235.20,1762.67 236.98,1758.13 238.90,1753.60 C240.82,1749.07 243.63,1743.02 245.00,1740.00 C246.37,1736.98 244.83,1740.17 247.10,1735.50 C249.37,1730.83 254.40,1719.25 258.60,1712.00 C262.80,1704.75 267.55,1698.58 272.30,1692.00 C277.05,1685.42 281.77,1679.00 287.10,1672.50 C292.43,1666.00 298.58,1659.50 304.30,1653.00 C310.02,1646.50 313.78,1641.28 321.40,1633.50 C329.02,1625.72 341.47,1613.42 350.00,1606.30 C358.53,1599.18 365.55,1595.28 372.60,1590.80 C379.65,1586.32 385.73,1583.08 392.30,1579.40 C398.87,1575.72 405.07,1571.97 412.00,1568.70 C418.93,1565.43 426.60,1562.72 433.90,1559.80 C441.20,1556.88 448.50,1553.93 455.80,1551.20 C463.10,1548.47 473.17,1545.15 477.70,1543.40 C482.23,1541.65 481.53,1541.80 483.00,1540.70 C484.47,1539.60 483.73,1537.98 486.50,1536.80 C489.27,1535.62 493.77,1535.07 499.60,1533.60 C505.43,1532.13 513.60,1529.88 521.50,1528.00 C529.40,1526.12 542.75,1523.25 547.00,1522.30" stroke="#ff0000" stroke-width="2.8"/>
<path d="M200.26,1975.00 C200.35,1973.60 200.32,1974.10 200.82,1966.60 C201.33,1959.10 202.48,1941.10 203.28,1930.00 C204.09,1918.90 204.91,1908.33 205.67,1900.00 C206.43,1891.67 206.83,1888.55 207.84,1880.00 C208.85,1871.45 210.56,1857.32 211.73,1848.70 C212.90,1840.08 213.77,1834.70 214.86,1828.30 C215.95,1821.90 217.09,1815.95 218.26,1810.30 C219.44,1804.65 220.56,1799.32 221.91,1794.40 C223.26,1789.48 224.88,1785.33 226.38,1780.80 C227.88,1776.27 229.30,1771.73 230.92,1767.20 C232.53,1762.67 234.26,1758.13 236.05,1753.60 C237.84,1749.07 240.18,1743.56 241.66,1740.00 C243.14,1736.44 242.47,1737.41 244.93,1732.27 C247.40,1727.13 252.38,1716.24 256.43,1709.15 C260.49,1702.06 264.73,1696.05 269.26,1689.72 C273.79,1683.39 278.52,1677.35 283.64,1671.17 C288.76,1664.99 294.40,1658.80 299.97,1652.62 C305.54,1646.44 310.18,1640.99 317.07,1634.07 C323.96,1627.15 333.47,1617.63 341.30,1611.13 C349.12,1604.62 356.76,1599.82 364.01,1595.06 C371.26,1590.29 378.06,1586.40 384.81,1582.52 C391.56,1578.63 397.72,1575.08 404.51,1571.74 C411.31,1568.40 418.42,1565.41 425.58,1562.46 C432.74,1559.51 440.18,1556.78 447.48,1554.05 C454.78,1551.32 463.79,1548.16 469.38,1546.06 C474.96,1543.96 478.35,1542.80 480.99,1541.46 C483.62,1540.12 482.90,1539.17 485.17,1538.02 C487.44,1536.86 489.95,1535.91 494.62,1534.55 C499.29,1533.19 506.06,1531.58 513.18,1529.86 C520.29,1528.14 533.29,1525.18 537.31,1524.24" stroke="#ff8000" stroke-width="2.6"/>
<path d="M199.30,1974.40 C199.39,1973.00 199.34,1973.50 199.83,1966.00 C200.32,1958.50 201.47,1940.50 202.26,1929.40 C203.05,1918.30 203.84,1907.73 204.55,1899.40 C205.26,1891.07 205.57,1887.95 206.53,1879.40 C207.49,1870.85 209.20,1856.72 210.32,1848.10 C211.44,1839.48 212.18,1834.10 213.23,1827.70 C214.28,1821.30 215.48,1815.35 216.63,1809.70 C217.78,1804.05 218.85,1798.72 220.15,1793.80 C221.45,1788.88 223.00,1784.73 224.43,1780.20 C225.86,1775.67 227.20,1771.13 228.74,1766.60 C230.28,1762.07 231.97,1757.53 233.65,1753.00 C235.33,1748.47 237.26,1743.41 238.84,1739.40 C240.42,1735.39 240.48,1734.49 243.11,1728.95 C245.74,1723.41 250.68,1713.11 254.61,1706.15 C258.54,1699.19 262.35,1693.32 266.70,1687.20 C271.05,1681.08 275.79,1675.37 280.73,1669.45 C285.67,1663.53 290.87,1657.62 296.32,1651.70 C301.77,1645.78 307.14,1640.13 313.42,1633.95 C319.70,1627.77 326.74,1620.58 333.97,1614.59 C341.20,1608.61 349.36,1603.05 356.78,1598.04 C364.20,1593.03 371.61,1588.60 378.51,1584.54 C385.41,1580.48 391.53,1577.11 398.21,1573.70 C404.89,1570.29 411.53,1567.08 418.57,1564.10 C425.61,1561.13 433.17,1558.58 440.47,1555.85 C447.77,1553.12 455.90,1550.09 462.37,1547.70 C468.84,1545.31 475.68,1543.04 479.29,1541.50 C482.90,1539.96 482.19,1539.57 484.05,1538.44 C485.91,1537.32 486.74,1536.02 490.43,1534.75 C494.12,1533.48 499.72,1532.41 506.17,1530.83 C512.62,1529.25 525.32,1526.20 529.15,1525.27" stroke="#00ff00" stroke-width="2.6"/>
<path d="M198.40,1975.00 C198.48,1973.60 198.42,1974.10 198.90,1966.60 C199.38,1959.10 200.53,1941.10 201.30,1930.00 C202.07,1918.90 202.83,1908.33 203.50,1900.00 C204.17,1891.67 204.38,1888.55 205.30,1880.00 C206.22,1871.45 207.93,1857.32 209.00,1848.70 C210.07,1840.08 210.68,1834.70 211.70,1828.30 C212.72,1821.90 213.97,1815.95 215.10,1810.30 C216.23,1804.65 217.25,1799.32 218.50,1794.40 C219.75,1789.48 221.23,1785.33 222.60,1780.80 C223.97,1776.27 225.23,1771.73 226.70,1767.20 C228.17,1762.67 229.82,1758.13 231.40,1753.60 C232.98,1749.07 234.53,1744.43 236.20,1740.00 C237.87,1735.57 238.62,1732.92 241.40,1727.00 C244.18,1721.08 249.08,1711.33 252.90,1704.50 C256.72,1697.67 260.12,1691.92 264.30,1686.00 C268.48,1680.08 273.23,1674.67 278.00,1669.00 C282.77,1663.33 287.57,1657.67 292.90,1652.00 C298.23,1646.33 304.30,1640.50 310.00,1635.00 C315.70,1629.50 320.43,1624.50 327.10,1619.00 C333.77,1613.50 342.42,1607.23 350.00,1602.00 C357.58,1596.77 365.55,1591.82 372.60,1587.60 C379.65,1583.38 385.73,1580.17 392.30,1576.70 C398.87,1573.23 405.07,1569.80 412.00,1566.80 C418.93,1563.80 426.60,1561.43 433.90,1558.70 C441.20,1555.97 448.50,1553.07 455.80,1550.40 C463.10,1547.73 473.17,1544.43 477.70,1542.70 C482.23,1540.97 481.53,1541.10 483.00,1540.00 C484.47,1538.90 483.73,1537.28 486.50,1536.10 C489.27,1534.92 493.77,1534.35 499.60,1532.90 C505.43,1531.45 513.60,1529.30 521.50,1527.40 C529.40,1525.50 542.75,1522.48 547.00,1521.50" stroke="#0000ff" stroke-width="3.0"/>
</g>
<line x1="191.50" y1="1945.98" x2="201.50" y2="1945.98" stroke="#000" stroke-width="3" stroke-linecap="butt"/>
<line x1="546.50" y1="1945.98" x2="536.50" y2="1945.98" stroke="#000" stroke-width="3" stroke-linecap="butt"/>
<line x1="191.50" y1="1928.57" x2="201.50" y2="1928.57" stroke="#000" stroke-width="3" stroke-linecap="butt"/>
<line x1="546.50" y1="1928.57" x2="536.50" y2="1928.57" stroke="#000" stroke-width="3" stroke-linecap="butt"/>
<line x1="191.50" y1="1913.50" x2="201.50" y2="1913.50" stroke="#000" stroke-width="3" stroke-linecap="butt"/>
<line x1="546.50" y1="1913.50" x2="536.50" y2="1913.50" stroke="#000" stroke-width="3" stroke-linecap="butt"/>
<line x1="191.50" y1="1900.20" x2="201.50" y2="1900.20" stroke="#000" stroke-width="3" stroke-linecap="butt"/>
<line x1="546.50" y1="1900.20" x2="536.50" y2="1900.20" stroke="#000" stroke-width="3" stroke-linecap="butt"/>
<line x1="191.50" y1="1888.30" x2="208.50" y2="1888.30" stroke="#000" stroke-width="3" stroke-linecap="butt"/>
<line x1="546.50" y1="1888.30" x2="529.50" y2="1888.30" stroke="#000" stroke-width="3" stroke-linecap="butt"/>
<line x1="191.50" y1="1810.03" x2="201.50" y2="1810.03" stroke="#000" stroke-width="3" stroke-linecap="butt"/>
<line x1="546.50" y1="1810.03" x2="536.50" y2="1810.03" stroke="#000" stroke-width="3" stroke-linecap="butt"/>
<line x1="191.50" y1="1764.25" x2="201.50" y2="1764.25" stroke="#000" stroke-width="3" stroke-linecap="butt"/>
<line x1="546.50" y1="1764.25" x2="536.50" y2="1764.25" stroke="#000" stroke-width="3" stroke-linecap="butt"/>
<line x1="191.50" y1="1731.76" x2="201.50" y2="1731.76" stroke="#000" stroke-width="3" stroke-linecap="butt"/>
<line x1="546.50" y1="1731.76" x2="536.50" y2="1731.76" stroke="#000" stroke-width="3" stroke-linecap="butt"/>
<line x1="191.50" y1="1706.57" x2="201.50" y2="1706.57" stroke="#000" stroke-width="3" stroke-linecap="butt"/>
<line x1="546.50" y1="1706.57" x2="536.50" y2="1706.57" stroke="#000" stroke-width="3" stroke-linecap="butt"/>
<line x1="191.50" y1="1685.98" x2="201.50" y2="1685.98" stroke="#000" stroke-width="3" stroke-linecap="butt"/>
<line x1="546.50" y1="1685.98" x2="536.50" y2="1685.98" stroke="#000" stroke-width="3" stroke-linecap="butt"/>
<line x1="191.50" y1="1668.57" x2="201.50" y2="1668.57" stroke="#000" stroke-width="3" stroke-linecap="butt"/>
<line x1="546.50" y1="1668.57" x2="536.50" y2="1668.57" stroke="#000" stroke-width="3" stroke-linecap="butt"/>
<line x1="191.50" y1="1653.50" x2="201.50" y2="1653.50" stroke="#000" stroke-width="3" stroke-linecap="butt"/>
<line x1="546.50" y1="1653.50" x2="536.50" y2="1653.50" stroke="#000" stroke-width="3" stroke-linecap="butt"/>
<line x1="191.50" y1="1640.20" x2="201.50" y2="1640.20" stroke="#000" stroke-width="3" stroke-linecap="butt"/>
<line x1="546.50" y1="1640.20" x2="536.50" y2="1640.20" stroke="#000" stroke-width="3" stroke-linecap="butt"/>
<line x1="191.50" y1="1628.30" x2="208.50" y2="1628.30" stroke="#000" stroke-width="3" stroke-linecap="butt"/>
<line x1="546.50" y1="1628.30" x2="529.50" y2="1628.30" stroke="#000" stroke-width="3" stroke-linecap="butt"/>
<line x1="191.50" y1="1550.03" x2="201.50" y2="1550.03" stroke="#000" stroke-width="3" stroke-linecap="butt"/>
<line x1="546.50" y1="1550.03" x2="536.50" y2="1550.03" stroke="#000" stroke-width="3" stroke-linecap="butt"/>
<line x1="191.50" y1="1966.70" x2="191.50" y2="1950.70" stroke="#000" stroke-width="3" stroke-linecap="butt"/>
<line x1="191.50" y1="1505.00" x2="191.50" y2="1521.00" stroke="#000" stroke-width="3" stroke-linecap="butt"/>
<line x1="280.25" y1="1966.70" x2="280.25" y2="1957.20" stroke="#000" stroke-width="3" stroke-linecap="butt"/>
<line x1="280.25" y1="1505.00" x2="280.25" y2="1514.50" stroke="#000" stroke-width="3" stroke-linecap="butt"/>
<line x1="369.00" y1="1966.70" x2="369.00" y2="1950.70" stroke="#000" stroke-width="3" stroke-linecap="butt"/>
<line x1="369.00" y1="1505.00" x2="369.00" y2="1521.00" stroke="#000" stroke-width="3" stroke-linecap="butt"/>
<line x1="457.75" y1="1966.70" x2="457.75" y2="1957.20" stroke="#000" stroke-width="3" stroke-linecap="butt"/>
<line x1="457.75" y1="1505.00" x2="457.75" y2="1514.50" stroke="#000" stroke-width="3" stroke-linecap="butt"/>
<line x1="546.50" y1="1966.70" x2="546.50" y2="1950.70" stroke="#000" stroke-width="3" stroke-linecap="butt"/>
<line x1="546.50" y1="1505.00" x2="546.50" y2="1521.00" stroke="#000" stroke-width="3" stroke-linecap="butt"/>
<rect x="191.5" y="1505.0" width="355.0" height="461.70000000000005" fill="none" stroke="#000" stroke-width="3.2" stroke-linejoin="round"/>
<text xml:space="preserve" transform="translate(141.28,1640.00) scale(0.9004,1)" font-size="34.00" fill="#000" stroke="#000" stroke-width="0.60">10</text>
<text xml:space="preserve" transform="translate(158.18,1898.90) scale(0.6982,1)" font-size="34.00" fill="#000" stroke="#000" stroke-width="0.78">1</text>
<text xml:space="preserve" transform="translate(162.15,2010.50) scale(0.9973,1)" font-size="31.80" fill="#000" stroke="#000" stroke-width="0.51">0.00</text>
<text xml:space="preserve" transform="translate(340.80,2010.50) scale(0.9528,1)" font-size="31.80" fill="#000" stroke="#000" stroke-width="0.53">0.05</text>
<text xml:space="preserve" transform="translate(517.59,2010.50) scale(0.9673,1)" font-size="31.80" fill="#000" stroke="#000" stroke-width="0.53">0.10</text>
<text xml:space="preserve" transform="translate(221.88,2049.30) scale(0.9757,1)" font-size="35.30" fill="#000" stroke="#000" stroke-width="0.58">Photon Energy</text>
<text xml:space="preserve" transform="translate(447.96,2049.30) scale(1.0467,1)" font-size="35.30" fill="#000" stroke="#000" stroke-width="0.54">(eV)</text>
<text xml:space="preserve" transform="translate(215.12,1556.50) scale(0.9910,1)" font-size="55.60" fill="#000" stroke="#000" stroke-width="0.90">(c)</text>
<text xml:space="preserve" transform="translate(130.60,1944.73) rotate(-90) scale(1.0034,1)" font-size="36.00" fill="#000" stroke="#000" stroke-width="0.57">Spectral Weight</text>
<text xml:space="preserve" transform="translate(130.60,1699.10) rotate(-90) scale(1.2031,1)" font-size="35.50" fill="#000" stroke="#000" stroke-width="0.47">(10</text>
<text xml:space="preserve" transform="translate(111.30,1641.89) rotate(-90) scale(1.1382,1)" font-size="25.70" fill="#000" stroke="#000" stroke-width="0.36">5</text>
<text xml:space="preserve" transform="translate(130.60,1616.09) rotate(-90) scale(1.0185,1)" font-size="35.50" fill="#000" stroke="#000" stroke-width="0.56">cm</text>
<text xml:space="preserve" transform="translate(110.90,1568.20) rotate(-90) scale(1.3699,1)" font-size="25.70" fill="#000" stroke="#000" stroke-width="0.30">-2</text>
<text xml:space="preserve" transform="translate(129.90,1538.42) rotate(-90) scale(1.0557,1)" font-size="35.50" fill="#000" stroke="#000" stroke-width="0.54">)</text>
<line x1="342.80" y1="1759.60" x2="426.20" y2="1759.60" stroke="#ff0000" stroke-width="3.0" stroke-linecap="round"/>
<text xml:space="preserve" transform="translate(433.49,1772.80) scale(0.9557,1)" font-size="29.00" fill="#000" stroke="#000" stroke-width="0.49">10 K</text>
<line x1="342.80" y1="1805.70" x2="426.20" y2="1805.70" stroke="#ff8000" stroke-width="3.0" stroke-linecap="round"/>
<text xml:space="preserve" transform="translate(434.35,1818.10) scale(0.9406,1)" font-size="29.00" fill="#000" stroke="#000" stroke-width="0.49">50 K</text>
<line x1="342.80" y1="1850.90" x2="426.20" y2="1850.90" stroke="#00ff00" stroke-width="3.0" stroke-linecap="round"/>
<text xml:space="preserve" transform="translate(434.12,1863.80) scale(0.9446,1)" font-size="29.00" fill="#000" stroke="#000" stroke-width="0.49">75 K</text>
<line x1="342.80" y1="1896.80" x2="426.20" y2="1896.80" stroke="#0000ff" stroke-width="3.0" stroke-linecap="round"/>
<text xml:space="preserve" transform="translate(433.51,1909.50) scale(0.9476,1)" font-size="29.00" fill="#000" stroke="#000" stroke-width="0.49">100 K</text>
<line x1="658.00" y1="1681.50" x2="671.00" y2="1681.50" stroke="#000" stroke-width="3" stroke-linecap="butt"/>
<line x1="1019.80" y1="1681.50" x2="1006.80" y2="1681.50" stroke="#000" stroke-width="3" stroke-linecap="butt"/>
<line x1="658.00" y1="1643.38" x2="665.00" y2="1643.38" stroke="#000" stroke-width="3" stroke-linecap="butt"/>
<line x1="1019.80" y1="1643.38" x2="1012.80" y2="1643.38" stroke="#000" stroke-width="3" stroke-linecap="butt"/>
<line x1="658.00" y1="1605.25" x2="671.00" y2="1605.25" stroke="#000" stroke-width="3" stroke-linecap="butt"/>
<line x1="1019.80" y1="1605.25" x2="1006.80" y2="1605.25" stroke="#000" stroke-width="3" stroke-linecap="butt"/>
<line x1="658.00" y1="1567.12" x2="665.00" y2="1567.12" stroke="#000" stroke-width="3" stroke-linecap="butt"/>
<line x1="1019.80" y1="1567.12" x2="1012.80" y2="1567.12" stroke="#000" stroke-width="3" stroke-linecap="butt"/>
<line x1="658.00" y1="1529.00" x2="671.00" y2="1529.00" stroke="#000" stroke-width="3" stroke-linecap="butt"/>
<line x1="1019.80" y1="1529.00" x2="1006.80" y2="1529.00" stroke="#000" stroke-width="3" stroke-linecap="butt"/>
<line x1="698.76" y1="1721.30" x2="698.76" y2="1714.80" stroke="#000" stroke-width="3" stroke-linecap="butt"/>
<line x1="698.76" y1="1490.50" x2="698.76" y2="1497.00" stroke="#000" stroke-width="3" stroke-linecap="butt"/>
<line x1="739.93" y1="1721.30" x2="739.93" y2="1708.30" stroke="#000" stroke-width="3" stroke-linecap="butt"/>
<line x1="739.93" y1="1490.50" x2="739.93" y2="1503.50" stroke="#000" stroke-width="3" stroke-linecap="butt"/>
<line x1="781.09" y1="1721.30" x2="781.09" y2="1714.80" stroke="#000" stroke-width="3" stroke-linecap="butt"/>
<line x1="781.09" y1="1490.50" x2="781.09" y2="1497.00" stroke="#000" stroke-width="3" stroke-linecap="butt"/>
<line x1="822.25" y1="1721.30" x2="822.25" y2="1708.30" stroke="#000" stroke-width="3" stroke-linecap="butt"/>
<line x1="822.25" y1="1490.50" x2="822.25" y2="1503.50" stroke="#000" stroke-width="3" stroke-linecap="butt"/>
<line x1="863.41" y1="1721.30" x2="863.41" y2="1714.80" stroke="#000" stroke-width="3" stroke-linecap="butt"/>
<line x1="863.41" y1="1490.50" x2="863.41" y2="1497.00" stroke="#000" stroke-width="3" stroke-linecap="butt"/>
<line x1="904.58" y1="1721.30" x2="904.58" y2="1708.30" stroke="#000" stroke-width="3" stroke-linecap="butt"/>
<line x1="904.58" y1="1490.50" x2="904.58" y2="1503.50" stroke="#000" stroke-width="3" stroke-linecap="butt"/>
<line x1="945.74" y1="1721.30" x2="945.74" y2="1714.80" stroke="#000" stroke-width="3" stroke-linecap="butt"/>
<line x1="945.74" y1="1490.50" x2="945.74" y2="1497.00" stroke="#000" stroke-width="3" stroke-linecap="butt"/>
<line x1="986.90" y1="1721.30" x2="986.90" y2="1708.30" stroke="#000" stroke-width="3" stroke-linecap="butt"/>
<line x1="986.90" y1="1490.50" x2="986.90" y2="1503.50" stroke="#000" stroke-width="3" stroke-linecap="butt"/>
<rect x="658.0" y="1490.5" width="361.79999999999995" height="230.79999999999995" fill="none" stroke="#000" stroke-width="3" stroke-linejoin="round"/>
<line x1="701.96" y1="1652.05" x2="813.04" y2="1609.25" stroke="#000" stroke-width="2.8"/>
<line x1="832.89" y1="1599.90" x2="895.41" y2="1564.70" stroke="#000" stroke-width="2.8"/>
<line x1="915.33" y1="1555.51" x2="976.37" y2="1533.09" stroke="#000" stroke-width="2.8"/>
<line x1="702.77" y1="1527.46" x2="812.23" y2="1519.14" stroke="#000" stroke-width="2.8"/>
<line x1="834.38" y1="1517.72" x2="893.92" y2="1514.58" stroke="#000" stroke-width="2.8"/>
<line x1="915.91" y1="1516.04" x2="975.79" y2="1527.26" stroke="#000" stroke-width="2.8"/>
<circle cx="691.7" cy="1656" r="10.2" fill="#000"/>
<circle cx="823.3" cy="1605.3" r="10.2" fill="#000"/>
<circle cx="905" cy="1559.3" r="10.2" fill="#000"/>
<circle cx="691.7" cy="1528.3" r="9.65" fill="#fff" stroke="#000" stroke-width="1.4"/>
<circle cx="823.3" cy="1518.3" r="9.65" fill="#fff" stroke="#000" stroke-width="1.4"/>
<circle cx="905" cy="1514" r="9.65" fill="#fff" stroke="#000" stroke-width="1.4"/>
<circle cx="986.7" cy="1529.3" r="9.65" fill="#fff" stroke="#000" stroke-width="1.4"/>
<line x1="806.70" y1="1639.30" x2="883.80" y2="1639.30" stroke="#000" stroke-width="2.4" stroke-linecap="butt"/>
<circle cx="845.7" cy="1639.8" r="9.65" fill="#fff" stroke="#000" stroke-width="1.4"/>
<line x1="806.70" y1="1681.80" x2="883.80" y2="1681.80" stroke="#000" stroke-width="2.4" stroke-linecap="butt"/>
<circle cx="845.7" cy="1682.2" r="10.2" fill="#000"/>
<text xml:space="preserve" transform="translate(891.06,1651.00) scale(0.9404,1)" font-size="30.00" fill="#000" stroke="#000" stroke-width="0.51">100 meV</text>
<text xml:space="preserve" transform="translate(891.09,1693.80) scale(0.9286,1)" font-size="30.00" fill="#000" stroke="#000" stroke-width="0.52">17 meV</text>
<text xml:space="preserve" transform="translate(613.30,1538.30) scale(0.9292,1)" font-size="29.80" fill="#000" stroke="#000" stroke-width="0.51">1.0</text>
<text xml:space="preserve" transform="translate(612.27,1615.00) scale(0.9463,1)" font-size="29.80" fill="#000" stroke="#000" stroke-width="0.50">0.9</text>
<text xml:space="preserve" transform="translate(612.29,1691.70) scale(0.9296,1)" font-size="29.80" fill="#000" stroke="#000" stroke-width="0.51">0.8</text>
<text xml:space="preserve" transform="translate(651.47,1750.30) scale(0.9123,1)" font-size="29.50" fill="#000" stroke="#000" stroke-width="0.52">0</text>
<text xml:space="preserve" transform="translate(726.70,1750.30) scale(0.9326,1)" font-size="29.50" fill="#000" stroke="#000" stroke-width="0.51">25</text>
<text xml:space="preserve" transform="translate(808.82,1750.30) scale(0.9323,1)" font-size="29.50" fill="#000" stroke="#000" stroke-width="0.51">50</text>
<text xml:space="preserve" transform="translate(891.05,1750.30) scale(0.9321,1)" font-size="29.50" fill="#000" stroke="#000" stroke-width="0.51">75</text>
<text xml:space="preserve" transform="translate(966.05,1750.30) scale(0.9384,1)" font-size="29.50" fill="#000" stroke="#000" stroke-width="0.50">100</text>
<text xml:space="preserve" transform="translate(675.44,1697.10) scale(1.0003,1)" font-size="35.00" fill="#000" stroke="#000" stroke-width="0.56">(d)</text>
<line x1="658.00" y1="1975.05" x2="665.00" y2="1975.05" stroke="#000" stroke-width="3" stroke-linecap="butt"/>
<line x1="1019.80" y1="1975.05" x2="1012.80" y2="1975.05" stroke="#000" stroke-width="3" stroke-linecap="butt"/>
<line x1="658.00" y1="1938.80" x2="671.00" y2="1938.80" stroke="#000" stroke-width="3" stroke-linecap="butt"/>
<line x1="1019.80" y1="1938.80" x2="1006.80" y2="1938.80" stroke="#000" stroke-width="3" stroke-linecap="butt"/>
<line x1="658.00" y1="1902.55" x2="665.00" y2="1902.55" stroke="#000" stroke-width="3" stroke-linecap="butt"/>
<line x1="1019.80" y1="1902.55" x2="1012.80" y2="1902.55" stroke="#000" stroke-width="3" stroke-linecap="butt"/>
<line x1="658.00" y1="1866.30" x2="671.00" y2="1866.30" stroke="#000" stroke-width="3" stroke-linecap="butt"/>
<line x1="1019.80" y1="1866.30" x2="1006.80" y2="1866.30" stroke="#000" stroke-width="3" stroke-linecap="butt"/>
<line x1="658.00" y1="1830.05" x2="665.00" y2="1830.05" stroke="#000" stroke-width="3" stroke-linecap="butt"/>
<line x1="1019.80" y1="1830.05" x2="1012.80" y2="1830.05" stroke="#000" stroke-width="3" stroke-linecap="butt"/>
<line x1="658.00" y1="1793.80" x2="671.00" y2="1793.80" stroke="#000" stroke-width="3" stroke-linecap="butt"/>
<line x1="1019.80" y1="1793.80" x2="1006.80" y2="1793.80" stroke="#000" stroke-width="3" stroke-linecap="butt"/>
<line x1="693.90" y1="1989.00" x2="693.90" y2="1976.00" stroke="#000" stroke-width="3" stroke-linecap="butt"/>
<line x1="693.90" y1="1758.40" x2="693.90" y2="1771.40" stroke="#000" stroke-width="3" stroke-linecap="butt"/>
<line x1="730.20" y1="1989.00" x2="730.20" y2="1982.50" stroke="#000" stroke-width="3" stroke-linecap="butt"/>
<line x1="730.20" y1="1758.40" x2="730.20" y2="1764.90" stroke="#000" stroke-width="3" stroke-linecap="butt"/>
<line x1="766.50" y1="1989.00" x2="766.50" y2="1976.00" stroke="#000" stroke-width="3" stroke-linecap="butt"/>
<line x1="766.50" y1="1758.40" x2="766.50" y2="1771.40" stroke="#000" stroke-width="3" stroke-linecap="butt"/>
<line x1="802.80" y1="1989.00" x2="802.80" y2="1982.50" stroke="#000" stroke-width="3" stroke-linecap="butt"/>
<line x1="802.80" y1="1758.40" x2="802.80" y2="1764.90" stroke="#000" stroke-width="3" stroke-linecap="butt"/>
<line x1="839.10" y1="1989.00" x2="839.10" y2="1976.00" stroke="#000" stroke-width="3" stroke-linecap="butt"/>
<line x1="839.10" y1="1758.40" x2="839.10" y2="1771.40" stroke="#000" stroke-width="3" stroke-linecap="butt"/>
<line x1="875.40" y1="1989.00" x2="875.40" y2="1982.50" stroke="#000" stroke-width="3" stroke-linecap="butt"/>
<line x1="875.40" y1="1758.40" x2="875.40" y2="1764.90" stroke="#000" stroke-width="3" stroke-linecap="butt"/>
<line x1="911.70" y1="1989.00" x2="911.70" y2="1976.00" stroke="#000" stroke-width="3" stroke-linecap="butt"/>
<line x1="911.70" y1="1758.40" x2="911.70" y2="1771.40" stroke="#000" stroke-width="3" stroke-linecap="butt"/>
<line x1="948.00" y1="1989.00" x2="948.00" y2="1982.50" stroke="#000" stroke-width="3" stroke-linecap="butt"/>
<line x1="948.00" y1="1758.40" x2="948.00" y2="1764.90" stroke="#000" stroke-width="3" stroke-linecap="butt"/>
<line x1="984.30" y1="1989.00" x2="984.30" y2="1976.00" stroke="#000" stroke-width="3" stroke-linecap="butt"/>
<line x1="984.30" y1="1758.40" x2="984.30" y2="1771.40" stroke="#000" stroke-width="3" stroke-linecap="butt"/>
<rect x="658.0" y="1758.4" width="361.79999999999995" height="230.5999999999999" fill="none" stroke="#000" stroke-width="3" stroke-linejoin="round"/>
<line x1="705.21" y1="1862.78" x2="756.59" y2="1845.92" stroke="#ff00ff" stroke-width="2.6"/>
<line x1="778.67" y1="1840.09" x2="828.03" y2="1830.21" stroke="#ff00ff" stroke-width="2.6"/>
<line x1="849.91" y1="1820.96" x2="900.29" y2="1788.14" stroke="#ff00ff" stroke-width="2.6"/>
<line x1="922.19" y1="1782.43" x2="972.71" y2="1788.47" stroke="#ff00ff" stroke-width="2.6"/>
<rect x="684.90" y="1857.10" width="18.6" height="18.6" fill="#ff00ff"/>
<rect x="758.30" y="1833.00" width="18.6" height="18.6" fill="#ff00ff"/>
<rect x="829.80" y="1818.70" width="18.6" height="18.6" fill="#ff00ff"/>
<rect x="901.80" y="1771.80" width="18.6" height="18.6" fill="#ff00ff"/>
<rect x="974.50" y="1780.50" width="18.6" height="18.6" fill="#ff00ff"/>
<line x1="706.22" y1="1869.60" x2="754.78" y2="1880.10" stroke="#ff8000" stroke-width="2.6"/>
<line x1="778.37" y1="1886.88" x2="827.53" y2="1904.62" stroke="#ff8000" stroke-width="2.6"/>
<line x1="851.35" y1="1909.90" x2="898.95" y2="1914.20" stroke="#ff8000" stroke-width="2.6"/>
<line x1="921.43" y1="1922.12" x2="973.57" y2="1956.88" stroke="#ff8000" stroke-width="2.6"/>
<path d="M694.20,1855.20 L705.60,1873.80 L682.80,1873.80 Z" fill="#ff8000"/>
<path d="M766.80,1870.90 L778.20,1889.50 L755.40,1889.50 Z" fill="#ff8000"/>
<path d="M839.10,1897.00 L850.50,1915.60 L827.70,1915.60 Z" fill="#ff8000"/>
<path d="M911.20,1903.50 L922.60,1922.10 L899.80,1922.10 Z" fill="#ff8000"/>
<path d="M983.80,1951.90 L995.20,1970.50 L972.40,1970.50 Z" fill="#ff8000"/>
<line x1="705.49" y1="1865.32" x2="756.31" y2="1860.48" stroke="#808000" stroke-width="2.6"/>
<line x1="778.90" y1="1859.61" x2="827.80" y2="1860.49" stroke="#808000" stroke-width="2.6"/>
<line x1="850.36" y1="1858.26" x2="899.84" y2="1847.54" stroke="#808000" stroke-width="2.6"/>
<line x1="922.40" y1="1845.81" x2="972.50" y2="1848.99" stroke="#808000" stroke-width="2.6"/>
<rect x="685.50" y="1857.70" width="17.4" height="17.4" fill="#fff" stroke="#808000" stroke-width="1.6"/>
<rect x="758.90" y="1850.70" width="17.4" height="17.4" fill="#fff" stroke="#808000" stroke-width="1.6"/>
<rect x="830.40" y="1852.00" width="17.4" height="17.4" fill="#fff" stroke="#808000" stroke-width="1.6"/>
<rect x="902.40" y="1836.40" width="17.4" height="17.4" fill="#fff" stroke="#808000" stroke-width="1.6"/>
<rect x="975.10" y="1841.00" width="17.4" height="17.4" fill="#fff" stroke="#808000" stroke-width="1.6"/>
<line x1="808.50" y1="1801.80" x2="817.86" y2="1813.49" stroke="#ff00ff" stroke-width="2.8" stroke-linecap="round"/>
<path d="M823.80,1820.90 L813.96,1815.33 L820.51,1810.08 Z" fill="#ff00ff"/>
<line x1="904.80" y1="1875.80" x2="894.65" y2="1863.84" stroke="#808000" stroke-width="2.8" stroke-linecap="round"/>
<path d="M888.50,1856.60 L898.50,1861.89 L892.09,1867.32 Z" fill="#808000"/>
<line x1="870.80" y1="1949.50" x2="885.37" y2="1932.26" stroke="#ff8000" stroke-width="2.8" stroke-linecap="round"/>
<path d="M891.50,1925.00 L887.93,1935.73 L881.52,1930.31 Z" fill="#ff8000"/>
<text xml:space="preserve" transform="translate(724.80,1795.30) scale(0.9615,1)" font-size="28.50" fill="#ff00ff" stroke="#ff00ff" stroke-width="0.47">Ω = 0.5 eV</text>
<text xml:space="preserve" transform="translate(881.42,1898.90) scale(0.9511,1)" font-size="28.50" fill="#808000" stroke="#808000" stroke-width="0.48">Ω = 1.4 eV</text>
<text xml:space="preserve" transform="translate(723.02,1961.20) scale(0.9092,1)" font-size="30.00" fill="#ff8000" stroke="#ff8000" stroke-width="0.53">Ω = 0.05 eV</text>
<text xml:space="preserve" transform="translate(601.23,1802.40) scale(0.8892,1)" font-size="29.40" fill="#000" stroke="#000" stroke-width="0.53">1.05</text>
<text xml:space="preserve" transform="translate(601.16,1875.30) scale(0.9180,1)" font-size="29.40" fill="#000" stroke="#000" stroke-width="0.51">1.00</text>
<text xml:space="preserve" transform="translate(599.71,1947.20) scale(0.9196,1)" font-size="29.40" fill="#000" stroke="#000" stroke-width="0.51">0.95</text>
<text xml:space="preserve" transform="translate(673.24,2022.40) scale(0.9683,1)" font-size="28.00" fill="#000" stroke="#000" stroke-width="0.46">100</text>
<text xml:space="preserve" transform="translate(745.24,2022.40) scale(0.9683,1)" font-size="28.00" fill="#000" stroke="#000" stroke-width="0.46">150</text>
<text xml:space="preserve" transform="translate(817.40,2022.40) scale(0.9911,1)" font-size="28.00" fill="#000" stroke="#000" stroke-width="0.45">200</text>
<text xml:space="preserve" transform="translate(888.72,2022.40) scale(0.9811,1)" font-size="28.00" fill="#000" stroke="#000" stroke-width="0.46">250</text>
<text xml:space="preserve" transform="translate(962.30,2022.40) scale(0.9864,1)" font-size="28.00" fill="#000" stroke="#000" stroke-width="0.45">300</text>
<text xml:space="preserve" transform="translate(729.99,2053.40) scale(0.9925,1)" font-size="31.00" fill="#000" stroke="#000" stroke-width="0.50">Temperature (K)</text>
<text xml:space="preserve" transform="translate(675.40,1797.20) scale(1.0243,1)" font-size="35.00" fill="#000" stroke="#000" stroke-width="0.55">(e)</text>
<text xml:space="preserve" transform="translate(593.00,1867.81) rotate(-90) scale(1.0226,1)" font-size="33.20" fill="#000" stroke="#000" stroke-width="0.52">SW(</text>
<text xml:space="preserve" transform="translate(593.00,1807.95) rotate(-90) scale(1.1943,1)" font-size="33.20" font-style="italic" fill="#000" stroke="#000" stroke-width="0.44">T</text>
<text xml:space="preserve" transform="translate(593.00,1788.66) rotate(-90) scale(0.8753,1)" font-size="33.20" fill="#000" stroke="#000" stroke-width="0.61">)</text>
<text xml:space="preserve" transform="translate(593.00,1771.13) rotate(-90) scale(0.9284,1)" font-size="33.20" fill="#000" stroke="#000" stroke-width="0.57">/</text>
<text xml:space="preserve" transform="translate(593.00,1755.16) rotate(-90) scale(1.0469,1)" font-size="33.20" fill="#000" stroke="#000" stroke-width="0.51">SW(</text>
<text xml:space="preserve" transform="translate(593.00,1692.00) rotate(-90) scale(1.0352,1)" font-size="33.20" font-style="italic" fill="#000" stroke="#000" stroke-width="0.51">T</text>
<text xml:space="preserve" transform="translate(593.00,1665.28) rotate(-90) scale(1.1121,1)" font-size="33.20" fill="#000" stroke="#000" stroke-width="0.48">=</text>
<text xml:space="preserve" transform="translate(593.00,1637.63) rotate(-90) scale(0.9902,1)" font-size="33.20" fill="#000" stroke="#000" stroke-width="0.54">100</text>
<text xml:space="preserve" transform="translate(593.00,1580.93) rotate(-90) scale(1.1401,1)" font-size="33.20" fill="#000" stroke="#000" stroke-width="0.47">K)</text>
</svg></body></html>
